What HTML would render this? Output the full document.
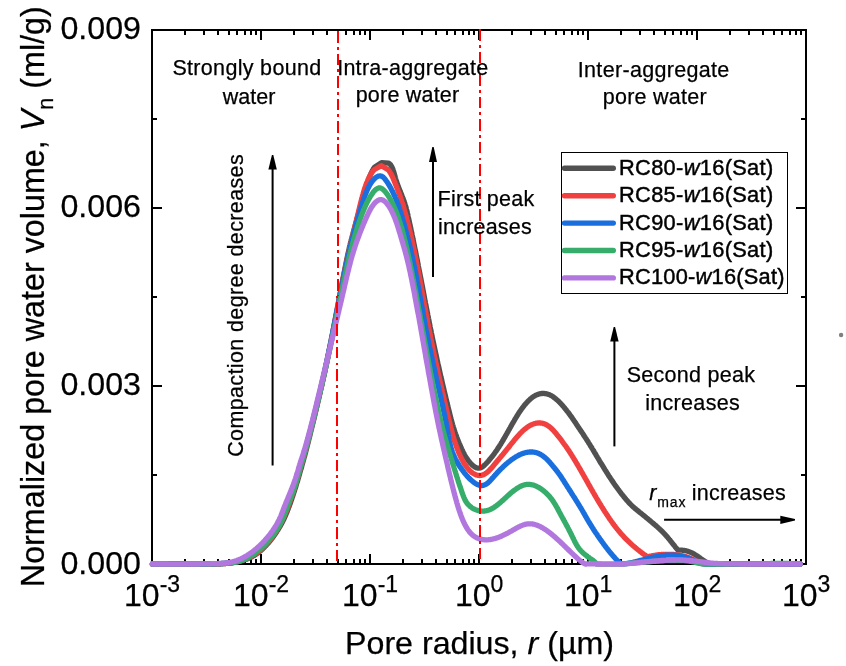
<!DOCTYPE html>
<html><head><meta charset="utf-8"><title>Pore water volume distribution</title>
<style>
html,body{margin:0;padding:0;background:#fff;}
body{width:846px;height:666px;overflow:hidden;}
svg{display:block;}
text{font-family:"Liberation Sans",sans-serif;fill:#000;stroke:#000;stroke-width:0.25px;}.i{font-style:italic;}
</style></head><body>
<svg width="846" height="666" viewBox="0 0 846 666">
<rect width="846" height="666" fill="#fff"/>
<path d="M184,29h2v6h-2zM184,559h2v6h-2zM203,29h2v6h-2zM203,559h2v6h-2zM217,29h2v6h-2zM217,559h2v6h-2zM228,29h2v6h-2zM228,559h2v6h-2zM236,29h2v6h-2zM236,559h2v6h-2zM244,29h2v6h-2zM244,559h2v6h-2zM250,29h2v6h-2zM250,559h2v6h-2zM255,29h2v6h-2zM255,559h2v6h-2zM260,29h2v11h-2zM260,554h2v11h-2zM293,29h2v6h-2zM293,559h2v6h-2zM312,29h2v6h-2zM312,559h2v6h-2zM326,29h2v6h-2zM326,559h2v6h-2zM337,29h2v6h-2zM337,559h2v6h-2zM345,29h2v6h-2zM345,559h2v6h-2zM353,29h2v6h-2zM353,559h2v6h-2zM359,29h2v6h-2zM359,559h2v6h-2zM364,29h2v6h-2zM364,559h2v6h-2zM369,29h2v11h-2zM369,554h2v11h-2zM402,29h2v6h-2zM402,559h2v6h-2zM421,29h2v6h-2zM421,559h2v6h-2zM435,29h2v6h-2zM435,559h2v6h-2zM446,29h2v6h-2zM446,559h2v6h-2zM454,29h2v6h-2zM454,559h2v6h-2zM462,29h2v6h-2zM462,559h2v6h-2zM468,29h2v6h-2zM468,559h2v6h-2zM473,29h2v6h-2zM473,559h2v6h-2zM478,29h2v11h-2zM478,554h2v11h-2zM511,29h2v6h-2zM511,559h2v6h-2zM530,29h2v6h-2zM530,559h2v6h-2zM544,29h2v6h-2zM544,559h2v6h-2zM555,29h2v6h-2zM555,559h2v6h-2zM563,29h2v6h-2zM563,559h2v6h-2zM571,29h2v6h-2zM571,559h2v6h-2zM577,29h2v6h-2zM577,559h2v6h-2zM582,29h2v6h-2zM582,559h2v6h-2zM587,29h2v11h-2zM587,554h2v11h-2zM620,29h2v6h-2zM620,559h2v6h-2zM639,29h2v6h-2zM639,559h2v6h-2zM653,29h2v6h-2zM653,559h2v6h-2zM664,29h2v6h-2zM664,559h2v6h-2zM672,29h2v6h-2zM672,559h2v6h-2zM680,29h2v6h-2zM680,559h2v6h-2zM686,29h2v6h-2zM686,559h2v6h-2zM691,29h2v6h-2zM691,559h2v6h-2zM696,29h2v11h-2zM696,554h2v11h-2zM729,29h2v6h-2zM729,559h2v6h-2zM748,29h2v6h-2zM748,559h2v6h-2zM762,29h2v6h-2zM762,559h2v6h-2zM773,29h2v6h-2zM773,559h2v6h-2zM781,29h2v6h-2zM781,559h2v6h-2zM789,29h2v6h-2zM789,559h2v6h-2zM795,29h2v6h-2zM795,559h2v6h-2zM800,29h2v6h-2zM800,559h2v6h-2zM151,474h6v2h-6zM801,474h6v2h-6zM151,385h11v2h-11zM796,385h11v2h-11zM151,296h6v2h-6zM801,296h6v2h-6zM151,207h11v2h-11zM796,207h11v2h-11zM151,118h6v2h-6zM801,118h6v2h-6zM151,29h656v2h-656zM151,563h656v2h-656zM151,29h2v536h-2zM805,29h2v536h-2z" fill="#000" shape-rendering="crispEdges"/>
<path d="M152.4,564.0 L153.1,564.0 L153.9,564.0 L154.6,564.0 L155.4,564.0 L156.1,564.0 L156.9,564.0 L157.6,564.0 L158.4,564.0 L159.2,564.0 L160.0,564.0 L160.8,564.0 L161.6,564.0 L162.4,564.0 L163.2,564.0 L164.0,564.0 L164.8,564.0 L165.6,564.0 L166.5,564.0 L167.3,564.0 L168.1,564.0 L168.9,564.0 L169.8,564.0 L170.6,564.0 L171.5,564.0 L172.3,564.0 L173.2,564.0 L174.0,564.0 L174.8,564.0 L175.7,564.0 L176.5,564.0 L177.4,564.0 L178.2,564.0 L179.1,564.0 L179.9,564.0 L180.8,564.0 L181.7,564.0 L182.5,564.0 L183.4,564.0 L184.2,564.0 L185.0,564.0 L185.9,564.0 L186.7,564.0 L187.6,564.0 L188.4,564.0 L189.3,564.0 L190.1,564.0 L190.9,564.0 L191.8,564.0 L192.6,564.0 L193.4,564.0 L194.2,564.0 L195.0,564.0 L195.8,564.0 L196.7,564.0 L197.5,564.0 L198.3,564.0 L199.0,564.0 L199.8,564.0 L200.6,564.0 L201.4,564.0 L202.2,564.0 L202.9,564.0 L203.7,564.0 L204.4,564.0 L205.2,564.0 L205.9,564.0 L206.6,564.0 L207.3,564.0 L208.1,564.0 L208.8,564.0 L209.5,564.0 L210.2,564.0 L210.8,564.0 L211.5,564.0 L212.2,564.0 L212.9,564.0 L213.5,563.9 L214.2,563.9 L214.8,563.9 L215.5,563.9 L216.1,563.9 L216.8,563.9 L217.4,563.9 L218.0,563.8 L218.6,563.8 L219.3,563.8 L219.9,563.8 L220.5,563.8 L221.1,563.7 L221.7,563.7 L222.3,563.7 L222.9,563.6 L223.5,563.6 L224.0,563.6 L224.6,563.5 L225.2,563.5 L225.8,563.5 L226.3,563.4 L226.9,563.4 L227.5,563.3 L228.0,563.3 L228.6,563.2 L229.2,563.1 L229.7,563.1 L230.3,563.0 L230.8,563.0 L231.4,562.9 L232.0,562.8 L232.5,562.7 L233.1,562.7 L233.6,562.6 L234.1,562.5 L234.7,562.4 L235.2,562.3 L235.8,562.2 L236.3,562.1 L236.8,562.0 L237.4,561.9 L237.9,561.8 L238.4,561.7 L239.0,561.5 L239.5,561.4 L240.0,561.3 L240.5,561.1 L241.0,561.0 L241.6,560.9 L242.1,560.7 L242.6,560.6 L243.1,560.4 L243.6,560.2 L244.1,560.1 L244.6,559.9 L245.1,559.7 L245.6,559.5 L246.1,559.4 L246.6,559.2 L247.1,559.0 L247.6,558.8 L248.1,558.5 L248.6,558.3 L249.1,558.1 L249.6,557.9 L250.1,557.7 L250.6,557.4 L251.1,557.2 L251.6,556.9 L252.0,556.7 L252.5,556.4 L253.0,556.1 L253.5,555.8 L254.0,555.6 L254.4,555.3 L254.9,555.0 L255.4,554.7 L255.8,554.4 L256.3,554.1 L256.8,553.7 L257.2,553.4 L257.7,553.1 L258.2,552.7 L258.6,552.4 L259.1,552.0 L259.5,551.6 L260.0,551.3 L260.5,550.9 L260.9,550.5 L261.4,550.1 L261.8,549.7 L262.3,549.3 L262.7,548.9 L263.2,548.4 L263.6,548.0 L264.0,547.6 L264.5,547.1 L264.9,546.7 L265.3,546.2 L265.8,545.8 L266.2,545.3 L266.6,544.9 L267.0,544.4 L267.5,543.9 L267.9,543.5 L268.3,543.0 L268.7,542.5 L269.1,542.0 L269.5,541.5 L269.9,541.0 L270.3,540.5 L270.7,540.0 L271.1,539.5 L271.5,539.0 L271.9,538.5 L272.3,538.0 L272.7,537.5 L273.0,537.0 L273.4,536.5 L273.8,536.0 L274.1,535.5 L274.5,535.0 L274.8,534.5 L275.2,534.0 L275.5,533.5 L275.9,533.0 L276.2,532.5 L276.6,532.0 L276.9,531.5 L277.2,531.0 L277.5,530.5 L277.8,530.0 L278.2,529.5 L278.5,529.0 L278.8,528.5 L279.1,528.0 L279.3,527.5 L279.6,527.1 L279.9,526.6 L280.2,526.1 L280.5,525.6 L280.7,525.2 L281.0,524.7 L281.2,524.2 L281.5,523.7 L281.8,523.3 L282.0,522.8 L282.3,522.3 L282.5,521.9 L282.7,521.4 L283.0,520.9 L283.2,520.5 L283.4,520.0 L283.7,519.5 L283.9,519.0 L284.1,518.5 L284.3,518.1 L284.6,517.6 L284.8,517.1 L285.0,516.6 L285.2,516.1 L285.5,515.6 L285.7,515.1 L285.9,514.6 L286.1,514.0 L286.3,513.5 L286.6,513.0 L286.8,512.4 L287.0,511.9 L287.2,511.4 L287.4,510.8 L287.6,510.2 L287.9,509.7 L288.1,509.1 L288.3,508.5 L288.5,508.0 L288.7,507.4 L289.0,506.8 L289.2,506.2 L289.4,505.6 L289.6,505.0 L289.8,504.4 L290.1,503.8 L290.3,503.2 L290.5,502.6 L290.7,502.0 L290.9,501.4 L291.1,500.7 L291.4,500.1 L291.6,499.5 L291.8,498.8 L292.0,498.2 L292.2,497.5 L292.4,496.9 L292.7,496.3 L292.9,495.6 L293.1,494.9 L293.3,494.3 L293.5,493.6 L293.7,493.0 L294.0,492.3 L294.2,491.6 L294.4,491.0 L294.6,490.3 L294.8,489.6 L295.0,488.9 L295.2,488.3 L295.5,487.6 L295.7,486.9 L295.9,486.2 L296.1,485.5 L296.3,484.8 L296.5,484.1 L296.7,483.5 L296.9,482.8 L297.1,482.1 L297.4,481.4 L297.6,480.7 L297.8,480.0 L298.0,479.3 L298.2,478.6 L298.4,477.9 L298.6,477.2 L298.8,476.5 L299.0,475.8 L299.2,475.1 L299.4,474.4 L299.6,473.7 L299.8,472.9 L300.0,472.2 L300.2,471.5 L300.4,470.8 L300.6,470.1 L300.8,469.4 L301.1,468.7 L301.3,468.0 L301.5,467.3 L301.7,466.6 L301.8,465.9 L302.0,465.2 L302.2,464.5 L302.4,463.8 L302.6,463.1 L302.8,462.4 L303.0,461.7 L303.2,461.0 L303.4,460.3 L303.6,459.6 L303.8,458.8 L304.0,458.1 L304.2,457.3 L304.4,456.5 L304.7,455.8 L304.9,455.0 L305.1,454.1 L305.3,453.3 L305.6,452.4 L305.8,451.5 L306.0,450.6 L306.3,449.7 L306.5,448.7 L306.8,447.7 L307.0,446.7 L307.3,445.6 L307.6,444.5 L307.9,443.3 L308.2,442.2 L308.5,441.0 L308.8,439.7 L309.1,438.4 L309.5,437.1 L309.8,435.8 L310.1,434.4 L310.5,433.0 L310.8,431.5 L311.2,430.1 L311.6,428.6 L311.9,427.0 L312.3,425.5 L312.7,423.9 L313.1,422.3 L313.5,420.7 L313.9,419.1 L314.3,417.4 L314.7,415.7 L315.1,414.1 L315.5,412.3 L315.9,410.6 L316.3,408.9 L316.7,407.1 L317.1,405.3 L317.5,403.5 L318.0,401.7 L318.4,399.9 L318.8,398.1 L319.2,396.3 L319.6,394.5 L320.1,392.6 L320.5,390.8 L320.9,388.9 L321.3,387.0 L321.8,385.2 L322.2,383.3 L322.6,381.5 L323.0,379.6 L323.4,377.7 L323.8,375.9 L324.2,374.0 L324.7,372.2 L325.1,370.3 L325.5,368.5 L325.9,366.6 L326.3,364.8 L326.6,363.0 L327.0,361.1 L327.4,359.3 L327.8,357.5 L328.2,355.7 L328.5,354.0 L328.9,352.2 L329.3,350.4 L329.6,348.7 L330.0,346.9 L330.3,345.2 L330.7,343.5 L331.0,341.7 L331.4,340.0 L331.7,338.3 L332.1,336.6 L332.4,335.0 L332.7,333.3 L333.1,331.6 L333.4,330.0 L333.7,328.3 L334.0,326.7 L334.3,325.1 L334.6,323.5 L335.0,321.8 L335.3,320.3 L335.6,318.7 L335.9,317.1 L336.2,315.5 L336.5,314.0 L336.8,312.4 L337.0,310.9 L337.3,309.4 L337.6,307.9 L337.9,306.4 L338.2,304.9 L338.4,303.4 L338.7,301.9 L339.0,300.4 L339.3,299.0 L339.5,297.6 L339.8,296.1 L340.1,294.7 L340.3,293.3 L340.6,291.9 L340.8,290.5 L341.1,289.2 L341.3,287.8 L341.6,286.4 L341.8,285.1 L342.1,283.8 L342.3,282.5 L342.6,281.2 L342.8,279.9 L343.0,278.6 L343.3,277.3 L343.5,276.0 L343.7,274.8 L344.0,273.5 L344.2,272.3 L344.5,271.1 L344.7,269.8 L344.9,268.6 L345.2,267.4 L345.4,266.2 L345.6,265.1 L345.9,263.9 L346.1,262.7 L346.3,261.6 L346.6,260.4 L346.8,259.3 L347.0,258.1 L347.3,257.0 L347.5,255.9 L347.7,254.8 L348.0,253.7 L348.2,252.6 L348.5,251.5 L348.7,250.4 L349.0,249.4 L349.2,248.3 L349.5,247.2 L349.7,246.2 L350.0,245.1 L350.2,244.1 L350.5,243.1 L350.7,242.0 L351.0,241.0 L351.3,239.9 L351.5,238.9 L351.8,237.9 L352.1,236.8 L352.4,235.8 L352.6,234.7 L352.9,233.7 L353.2,232.6 L353.5,231.6 L353.8,230.5 L354.1,229.4 L354.4,228.3 L354.7,227.2 L355.0,226.1 L355.3,225.0 L355.6,223.9 L355.9,222.7 L356.3,221.6 L356.6,220.4 L356.9,219.2 L357.2,218.0 L357.6,216.8 L357.9,215.6 L358.3,214.3 L358.6,213.1 L359.0,211.8 L359.3,210.5 L359.7,209.2 L360.1,207.8 L360.4,206.5 L360.8,205.2 L361.2,203.8 L361.6,202.5 L362.0,201.1 L362.3,199.8 L362.7,198.4 L363.1,197.1 L363.5,195.7 L363.9,194.4 L364.3,193.1 L364.7,191.8 L365.1,190.5 L365.5,189.2 L365.9,187.9 L366.2,186.7 L366.6,185.5 L367.0,184.3 L367.4,183.1 L367.8,181.9 L368.2,180.8 L368.6,179.7 L369.0,178.6 L369.3,177.6 L369.7,176.6 L370.1,175.7 L370.5,174.7 L370.8,173.9 L371.2,173.0 L371.6,172.2 L371.9,171.5 L372.3,170.8 L372.6,170.1 L373.0,169.5 L373.3,168.9 L373.7,168.4 L374.0,167.9 L374.4,167.4 L374.5,167.2 L381.5,162.6 L388.5,163.1 L388.7,163.2 L389.1,163.4 L389.4,163.6 L389.7,163.9 L389.9,164.2 L390.2,164.4 L390.5,164.7 L390.7,165.1 L391.0,165.4 L391.2,165.7 L391.4,166.1 L391.6,166.5 L391.8,166.9 L392.0,167.3 L392.2,167.7 L392.4,168.1 L392.6,168.5 L392.8,169.0 L393.0,169.5 L393.1,169.9 L393.3,170.4 L393.5,170.9 L393.6,171.4 L393.8,171.9 L393.9,172.5 L394.1,173.0 L394.2,173.5 L394.4,174.1 L394.5,174.6 L394.7,175.2 L394.9,175.8 L395.0,176.3 L395.2,176.9 L395.3,177.5 L395.5,178.1 L395.7,178.7 L395.8,179.3 L396.0,179.9 L396.2,180.5 L396.4,181.1 L396.6,181.7 L396.8,182.3 L397.0,182.9 L397.2,183.5 L397.4,184.1 L397.7,184.8 L397.9,185.4 L398.1,186.0 L398.4,186.6 L398.6,187.2 L398.8,187.9 L399.1,188.5 L399.3,189.1 L399.6,189.7 L399.8,190.4 L400.1,191.0 L400.3,191.6 L400.6,192.3 L400.8,192.9 L401.1,193.5 L401.4,194.2 L401.6,194.8 L401.9,195.4 L402.1,196.1 L402.4,196.7 L402.6,197.3 L402.9,198.0 L403.1,198.6 L403.3,199.3 L403.6,199.9 L403.8,200.5 L404.0,201.2 L404.3,201.8 L404.5,202.5 L404.7,203.1 L404.9,203.8 L405.1,204.4 L405.3,205.1 L405.5,205.7 L405.7,206.4 L405.9,207.0 L406.1,207.7 L406.3,208.4 L406.4,209.0 L406.6,209.7 L406.8,210.4 L407.0,211.1 L407.2,211.9 L407.3,212.6 L407.5,213.4 L407.7,214.1 L407.9,214.9 L408.0,215.7 L408.2,216.6 L408.4,217.4 L408.6,218.3 L408.8,219.2 L409.0,220.1 L409.2,221.0 L409.4,222.0 L409.6,223.0 L409.8,224.0 L410.1,225.0 L410.3,226.1 L410.5,227.2 L410.8,228.3 L411.0,229.4 L411.2,230.6 L411.5,231.7 L411.7,232.9 L412.0,234.1 L412.2,235.3 L412.5,236.6 L412.8,237.8 L413.0,239.1 L413.3,240.4 L413.5,241.7 L413.8,243.0 L414.1,244.3 L414.4,245.7 L414.6,247.1 L414.9,248.4 L415.2,249.8 L415.5,251.2 L415.8,252.6 L416.0,254.0 L416.3,255.5 L416.6,256.9 L416.9,258.3 L417.2,259.8 L417.5,261.3 L417.8,262.7 L418.1,264.2 L418.3,265.7 L418.6,267.2 L418.9,268.7 L419.2,270.2 L419.5,271.7 L419.8,273.2 L420.1,274.7 L420.4,276.3 L420.7,277.8 L421.0,279.3 L421.3,280.9 L421.6,282.4 L421.9,284.0 L422.2,285.6 L422.5,287.1 L422.8,288.7 L423.1,290.3 L423.4,291.9 L423.7,293.5 L424.0,295.1 L424.3,296.7 L424.6,298.4 L424.9,300.0 L425.2,301.6 L425.5,303.3 L425.9,304.9 L426.2,306.6 L426.5,308.3 L426.8,310.0 L427.2,311.6 L427.5,313.3 L427.8,315.0 L428.2,316.8 L428.5,318.5 L428.9,320.2 L429.2,321.9 L429.5,323.7 L429.9,325.4 L430.2,327.2 L430.6,329.0 L431.0,330.7 L431.3,332.5 L431.7,334.3 L432.1,336.1 L432.4,337.9 L432.8,339.7 L433.2,341.6 L433.6,343.4 L434.0,345.3 L434.4,347.1 L434.8,349.0 L435.2,350.8 L435.6,352.7 L436.0,354.6 L436.4,356.4 L436.8,358.3 L437.2,360.2 L437.6,362.1 L438.0,363.9 L438.5,365.8 L438.9,367.6 L439.3,369.5 L439.7,371.3 L440.1,373.2 L440.5,375.0 L440.9,376.8 L441.4,378.6 L441.8,380.4 L442.2,382.2 L442.6,384.0 L443.0,385.7 L443.4,387.4 L443.8,389.2 L444.2,390.8 L444.6,392.5 L445.0,394.2 L445.4,395.8 L445.7,397.4 L446.1,399.0 L446.5,400.5 L446.9,402.1 L447.2,403.6 L447.6,405.0 L447.9,406.5 L448.3,407.9 L448.6,409.3 L449.0,410.6 L449.3,411.9 L449.6,413.2 L449.9,414.4 L450.2,415.6 L450.5,416.8 L450.8,417.9 L451.1,419.0 L451.4,420.0 L451.6,421.0 L451.9,421.9 L452.1,422.9 L452.4,423.7 L452.6,424.6 L452.9,425.4 L453.1,426.2 L453.3,427.0 L453.5,427.7 L453.8,428.4 L454.0,429.1 L454.2,429.8 L454.4,430.5 L454.6,431.2 L454.9,431.8 L455.1,432.5 L455.3,433.1 L455.5,433.8 L455.7,434.4 L456.0,435.0 L456.2,435.7 L456.5,436.3 L456.7,437.0 L457.0,437.7 L457.2,438.3 L457.5,439.0 L457.7,439.7 L458.0,440.3 L458.3,441.0 L458.5,441.7 L458.8,442.4 L459.1,443.1 L459.4,443.7 L459.7,444.4 L460.0,445.1 L460.3,445.8 L460.5,446.4 L460.8,447.1 L461.1,447.8 L461.4,448.4 L461.7,449.1 L462.0,449.7 L462.3,450.3 L462.6,451.0 L462.9,451.6 L463.2,452.2 L463.5,452.8 L463.9,453.4 L464.2,454.1 L464.5,454.7 L464.8,455.3 L465.2,455.9 L465.5,456.5 L465.9,457.1 L466.3,457.6 L466.7,458.2 L467.1,458.8 L467.5,459.4 L467.9,460.0 L468.3,460.6 L468.8,461.2 L469.3,461.8 L469.7,462.4 L470.2,462.9 L470.8,463.5 L471.3,464.0 L471.8,464.6 L472.3,465.1 L472.9,465.5 L473.4,466.0 L474.0,466.4 L474.5,466.8 L475.1,467.1 L475.7,467.4 L476.2,467.7 L476.8,467.9 L477.4,468.0 L477.9,468.1 L478.5,468.2 L479.0,468.2 L479.6,468.1 L480.1,468.0 L480.6,467.8 L481.2,467.6 L481.7,467.3 L482.2,467.0 L482.7,466.7 L483.2,466.3 L483.7,465.9 L484.2,465.4 L484.7,465.0 L485.2,464.5 L485.7,464.0 L486.2,463.5 L486.6,463.0 L487.1,462.5 L487.6,462.0 L488.0,461.5 L488.5,461.0 L488.9,460.5 L489.3,459.9 L489.8,459.4 L490.2,458.9 L490.6,458.4 L491.0,457.9 L491.4,457.4 L491.9,456.9 L492.3,456.4 L492.7,455.8 L493.0,455.3 L493.4,454.8 L493.8,454.3 L494.2,453.8 L494.6,453.2 L495.0,452.7 L495.3,452.2 L495.7,451.7 L496.1,451.2 L496.4,450.6 L496.8,450.1 L497.1,449.6 L497.5,449.1 L497.8,448.5 L498.2,448.0 L498.5,447.5 L498.9,447.0 L499.2,446.4 L499.6,445.9 L499.9,445.4 L500.2,444.8 L500.6,444.3 L500.9,443.8 L501.2,443.2 L501.5,442.7 L501.9,442.1 L502.2,441.6 L502.5,441.1 L502.8,440.5 L503.2,440.0 L503.5,439.4 L503.8,438.9 L504.1,438.3 L504.4,437.8 L504.8,437.2 L505.1,436.7 L505.4,436.1 L505.7,435.5 L506.0,435.0 L506.4,434.4 L506.7,433.8 L507.0,433.3 L507.3,432.7 L507.6,432.1 L508.0,431.6 L508.3,431.0 L508.6,430.4 L508.9,429.8 L509.3,429.3 L509.6,428.7 L509.9,428.1 L510.3,427.5 L510.6,426.9 L510.9,426.3 L511.3,425.7 L511.6,425.1 L511.9,424.5 L512.3,423.9 L512.6,423.3 L513.0,422.7 L513.3,422.1 L513.7,421.5 L514.1,420.9 L514.4,420.2 L514.8,419.6 L515.1,419.0 L515.5,418.4 L515.9,417.8 L516.2,417.2 L516.6,416.6 L517.0,416.0 L517.4,415.3 L517.8,414.7 L518.1,414.1 L518.5,413.5 L518.9,412.9 L519.3,412.3 L519.7,411.7 L520.1,411.1 L520.5,410.6 L520.9,410.0 L521.3,409.4 L521.7,408.8 L522.1,408.3 L522.5,407.7 L523.0,407.1 L523.4,406.6 L523.8,406.1 L524.2,405.5 L524.6,405.0 L525.1,404.5 L525.5,404.0 L525.9,403.5 L526.4,403.0 L526.8,402.5 L527.3,402.0 L527.7,401.5 L528.2,401.1 L528.6,400.6 L529.1,400.2 L529.5,399.8 L530.0,399.3 L530.4,398.9 L530.9,398.5 L531.4,398.2 L531.8,397.8 L532.3,397.4 L532.8,397.1 L533.3,396.8 L533.8,396.4 L534.2,396.1 L534.7,395.9 L535.2,395.6 L535.7,395.3 L536.2,395.1 L536.7,394.9 L537.2,394.6 L537.7,394.4 L538.2,394.3 L538.7,394.1 L539.2,394.0 L539.8,393.8 L540.3,393.7 L540.8,393.6 L541.3,393.5 L541.9,393.5 L542.4,393.5 L542.9,393.4 L543.5,393.4 L544.0,393.5 L544.5,393.5 L545.1,393.6 L545.6,393.6 L546.2,393.8 L546.8,393.9 L547.3,394.0 L547.9,394.2 L548.4,394.4 L549.0,394.6 L549.6,394.8 L550.1,395.1 L550.7,395.4 L551.3,395.7 L551.9,396.0 L552.5,396.4 L553.1,396.8 L553.7,397.2 L554.2,397.6 L554.8,398.1 L555.4,398.5 L556.0,399.0 L556.6,399.6 L557.3,400.1 L557.9,400.7 L558.5,401.2 L559.1,401.8 L559.7,402.5 L560.3,403.1 L560.9,403.7 L561.5,404.4 L562.1,405.0 L562.7,405.7 L563.3,406.4 L563.9,407.1 L564.4,407.8 L565.0,408.5 L565.6,409.2 L566.2,409.9 L566.7,410.6 L567.3,411.4 L567.9,412.1 L568.4,412.8 L569.0,413.5 L569.5,414.3 L570.0,415.0 L570.5,415.7 L571.1,416.4 L571.6,417.1 L572.1,417.8 L572.5,418.5 L573.0,419.2 L573.5,419.9 L573.9,420.5 L574.4,421.2 L574.8,421.8 L575.2,422.4 L575.7,423.0 L576.0,423.6 L576.4,424.2 L576.8,424.8 L577.2,425.3 L577.5,425.8 L577.8,426.3 L578.2,426.8 L578.5,427.3 L578.7,427.7 L579.0,428.1 L579.3,428.5 L579.6,429.0 L579.9,429.4 L580.1,429.8 L580.4,430.2 L580.7,430.6 L580.9,431.0 L581.2,431.4 L581.5,431.8 L581.8,432.2 L582.1,432.7 L582.4,433.1 L582.7,433.5 L583.0,434.0 L583.3,434.4 L583.5,434.9 L583.8,435.3 L584.1,435.8 L584.4,436.2 L584.7,436.7 L585.0,437.1 L585.3,437.6 L585.6,438.0 L585.9,438.5 L586.2,438.9 L586.5,439.4 L586.8,439.9 L587.1,440.3 L587.4,440.8 L587.7,441.2 L588.0,441.7 L588.3,442.1 L588.5,442.6 L588.8,443.1 L589.1,443.5 L589.4,444.0 L589.7,444.4 L590.0,444.9 L590.3,445.3 L590.5,445.8 L590.8,446.3 L591.1,446.7 L591.4,447.2 L591.7,447.6 L591.9,448.1 L592.2,448.6 L592.5,449.0 L592.8,449.5 L593.1,450.0 L593.3,450.4 L593.6,450.9 L593.9,451.4 L594.2,451.8 L594.4,452.3 L594.7,452.8 L595.0,453.2 L595.3,453.7 L595.6,454.2 L595.8,454.6 L596.1,455.1 L596.4,455.6 L596.7,456.1 L597.0,456.5 L597.3,457.0 L597.5,457.5 L597.8,458.0 L598.1,458.4 L598.4,458.9 L598.7,459.4 L599.0,459.9 L599.3,460.3 L599.5,460.8 L599.8,461.3 L600.1,461.8 L600.4,462.3 L600.7,462.8 L601.0,463.3 L601.3,463.7 L601.6,464.2 L601.9,464.7 L602.2,465.2 L602.5,465.7 L602.8,466.2 L603.1,466.7 L603.4,467.2 L603.7,467.7 L604.0,468.2 L604.3,468.7 L604.6,469.2 L604.9,469.7 L605.2,470.2 L605.6,470.7 L605.9,471.2 L606.2,471.7 L606.5,472.2 L606.8,472.7 L607.2,473.2 L607.5,473.7 L607.8,474.2 L608.2,474.8 L608.5,475.3 L608.8,475.8 L609.2,476.3 L609.5,476.8 L609.8,477.3 L610.2,477.9 L610.5,478.4 L610.9,478.9 L611.2,479.4 L611.6,479.9 L611.9,480.5 L612.3,481.0 L612.6,481.5 L613.0,482.0 L613.3,482.5 L613.7,483.1 L614.0,483.6 L614.4,484.1 L614.8,484.6 L615.1,485.1 L615.5,485.6 L615.8,486.2 L616.2,486.7 L616.6,487.2 L616.9,487.7 L617.3,488.2 L617.7,488.7 L618.0,489.2 L618.4,489.7 L618.8,490.2 L619.1,490.7 L619.5,491.2 L619.9,491.7 L620.2,492.2 L620.6,492.6 L621.0,493.1 L621.3,493.6 L621.7,494.1 L622.1,494.5 L622.5,495.0 L622.8,495.5 L623.2,495.9 L623.6,496.4 L623.9,496.8 L624.3,497.3 L624.7,497.7 L625.0,498.2 L625.4,498.6 L625.7,499.0 L626.1,499.5 L626.5,499.9 L626.8,500.3 L627.2,500.7 L627.6,501.1 L627.9,501.5 L628.3,501.9 L628.6,502.3 L629.0,502.7 L629.3,503.1 L629.7,503.4 L630.0,503.8 L630.4,504.2 L630.7,504.5 L631.1,504.9 L631.4,505.2 L631.8,505.5 L632.1,505.9 L632.4,506.2 L632.8,506.5 L633.1,506.8 L633.5,507.1 L633.8,507.4 L634.1,507.7 L634.5,508.0 L634.8,508.3 L635.2,508.6 L635.5,508.9 L635.9,509.2 L636.3,509.5 L636.6,509.8 L637.0,510.1 L637.4,510.4 L637.8,510.7 L638.2,511.1 L638.6,511.4 L639.0,511.7 L639.4,512.1 L639.9,512.4 L640.3,512.8 L640.8,513.1 L641.2,513.5 L641.7,513.9 L642.2,514.3 L642.7,514.7 L643.2,515.1 L643.7,515.5 L644.2,515.9 L644.7,516.3 L645.3,516.8 L645.8,517.2 L646.3,517.7 L646.9,518.1 L647.4,518.5 L648.0,519.0 L648.5,519.5 L649.1,519.9 L649.6,520.4 L650.2,520.8 L650.7,521.3 L651.3,521.8 L651.8,522.2 L652.4,522.7 L652.9,523.1 L653.5,523.6 L654.0,524.1 L654.5,524.5 L655.1,525.0 L655.6,525.4 L656.1,525.9 L656.6,526.3 L657.1,526.7 L657.6,527.2 L658.1,527.6 L658.5,528.0 L659.0,528.5 L659.4,528.9 L659.9,529.3 L660.3,529.7 L660.7,530.1 L661.1,530.4 L661.5,530.8 L661.9,531.2 L662.3,531.6 L662.6,531.9 L663.0,532.3 L663.3,532.6 L663.7,533.0 L664.0,533.3 L664.3,533.6 L664.6,534.0 L664.9,534.3 L665.3,534.6 L665.5,535.0 L665.8,535.3 L666.1,535.6 L666.4,535.9 L666.7,536.3 L667.0,536.6 L667.2,536.9 L667.5,537.2 L667.8,537.5 L668.1,537.9 L668.3,538.2 L668.6,538.5 L668.9,538.9 L669.1,539.2 L669.4,539.5 L669.7,539.9 L670.0,540.2 L670.2,540.6 L670.5,540.9 L670.8,541.3 L671.1,541.6 L671.4,542.0 L671.7,542.4 L672.0,542.8 L672.3,543.2 L672.6,543.6 L672.9,544.0 L673.3,544.4 L673.6,544.8 L674.0,545.2 L674.3,545.7 L674.7,546.1 L675.1,546.6 L675.4,547.1 L675.8,547.6 L676.2,548.1 L676.7,548.6 L677.1,549.1 L677.5,549.6 L678.0,550.2 L678.0,550.2 L678.7,550.1 L679.4,550.1 L680.1,550.1 L680.8,550.1 L681.5,550.2 L682.1,550.2 L682.8,550.3 L683.4,550.3 L684.1,550.4 L684.7,550.5 L685.3,550.6 L685.9,550.8 L686.4,550.9 L687.0,551.1 L687.6,551.2 L688.1,551.4 L688.7,551.6 L689.2,551.8 L689.8,552.0 L690.3,552.2 L690.8,552.4 L691.3,552.6 L691.8,552.8 L692.3,553.1 L692.8,553.3 L693.2,553.6 L693.7,553.8 L694.2,554.1 L694.6,554.4 L695.1,554.6 L695.5,554.9 L695.9,555.2 L696.4,555.4 L696.8,555.7 L697.2,556.0 L697.6,556.3 L698.1,556.6 L698.5,556.9 L698.9,557.2 L699.3,557.4 L699.7,557.7 L700.1,558.0 L700.4,558.3 L700.8,558.6 L701.2,558.9 L701.6,559.1 L702.0,559.4 L702.4,559.7 L702.7,559.9 L703.1,560.2 L703.5,560.5 L703.9,560.7 L704.2,561.0 L704.6,561.2 L705.0,561.4 L705.4,561.6 L705.7,561.9 L706.1,562.1 L706.5,562.3 L706.9,562.4 L707.2,562.6 L707.6,562.8 L708.0,563.0 L708.4,563.1 L708.8,563.2 L709.2,563.4 L709.6,563.5 L710.0,563.6 L710.4,563.7 L710.8,563.8 L711.3,563.9 L711.7,563.9 L712.2,564.0 L712.7,564.1 L713.2,564.1 L713.7,564.2 L714.2,564.2 L714.8,564.2 L715.4,564.2 L716.0,564.2 L716.7,564.2 L717.3,564.2 L718.0,564.2 L718.8,564.2 L719.5,564.2 L720.3,564.2 L721.2,564.2 L722.1,564.2 L723.0,564.2 L723.9,564.2 L724.9,564.2 L725.9,564.2 L726.9,564.2 L728.0,564.2 L729.1,564.2 L730.2,564.2 L731.4,564.2 L732.6,564.2 L733.8,564.2 L735.0,564.2 L736.2,564.2 L737.5,564.2 L738.8,564.2 L740.1,564.2 L741.4,564.1 L742.8,564.1 L744.1,564.1 L745.5,564.1 L746.9,564.1 L748.3,564.0 L749.7,564.0 L751.1,564.0 L752.5,564.0 L754.0,563.9 L755.4,563.9 L756.9,563.9 L758.3,563.9 L759.8,563.9 L761.2,563.8 L762.7,563.8 L764.1,563.8 L765.6,563.8 L767.0,563.8 L768.5,563.8 L769.9,563.8 L771.4,563.7 L772.8,563.7 L774.2,563.7 L775.6,563.7 L777.0,563.7 L778.4,563.7 L779.8,563.7 L781.2,563.7 L782.5,563.7 L783.8,563.7 L785.2,563.7 L786.5,563.7 L787.7,563.7 L789.0,563.7 L790.2,563.8 L791.4,563.8 L792.6,563.8 L793.8,563.8 L794.9,563.8 L796.0,563.9 L797.1,563.9 L798.2,563.9 L799.2,564.0 L800.2,564.0" fill="none" stroke="#515151" stroke-width="5.3" stroke-linejoin="round" stroke-linecap="round"/>
<path d="M152.4,564.0 L153.2,564.0 L153.9,564.0 L154.7,564.0 L155.4,564.0 L156.2,564.0 L157.0,564.0 L157.8,564.0 L158.6,564.0 L159.3,564.0 L160.1,564.0 L160.9,564.0 L161.7,564.0 L162.5,564.0 L163.3,564.0 L164.1,564.0 L164.9,564.0 L165.7,564.0 L166.5,564.0 L167.3,564.0 L168.1,564.0 L168.9,564.0 L169.7,564.0 L170.5,564.0 L171.4,564.0 L172.2,564.0 L173.0,564.0 L173.8,564.0 L174.6,564.0 L175.4,564.0 L176.3,564.0 L177.1,564.0 L177.9,564.0 L178.7,564.0 L179.5,564.0 L180.3,564.0 L181.2,564.0 L182.0,564.0 L182.8,564.0 L183.6,564.0 L184.4,564.0 L185.2,564.0 L186.0,564.0 L186.8,564.0 L187.7,564.0 L188.5,564.0 L189.3,564.0 L190.1,564.0 L190.9,564.0 L191.7,564.0 L192.5,564.0 L193.3,564.0 L194.1,564.0 L194.8,564.0 L195.6,564.0 L196.4,564.0 L197.2,564.0 L198.0,564.0 L198.8,564.0 L199.5,564.0 L200.3,564.0 L201.1,564.0 L201.8,564.0 L202.6,564.0 L203.3,564.0 L204.1,564.0 L204.8,564.0 L205.6,564.0 L206.3,564.0 L207.0,564.0 L207.8,563.9 L208.5,563.9 L209.2,563.9 L209.9,563.9 L210.6,563.9 L211.3,563.9 L212.0,563.9 L212.7,563.9 L213.4,563.9 L214.0,563.9 L214.7,563.9 L215.4,563.9 L216.0,563.9 L216.6,563.8 L217.3,563.8 L217.9,563.8 L218.5,563.8 L219.1,563.8 L219.7,563.8 L220.3,563.8 L220.8,563.7 L221.4,563.7 L221.9,563.7 L222.5,563.7 L223.0,563.6 L223.6,563.6 L224.1,563.6 L224.6,563.6 L225.1,563.5 L225.6,563.5 L226.1,563.4 L226.7,563.4 L227.2,563.4 L227.7,563.3 L228.2,563.3 L228.7,563.2 L229.2,563.1 L229.7,563.1 L230.2,563.0 L230.8,562.9 L231.3,562.9 L231.8,562.8 L232.3,562.7 L232.8,562.6 L233.4,562.5 L233.9,562.4 L234.4,562.3 L234.9,562.2 L235.4,562.1 L235.9,562.0 L236.5,561.9 L237.0,561.7 L237.5,561.6 L238.0,561.5 L238.5,561.4 L239.1,561.2 L239.6,561.1 L240.1,560.9 L240.6,560.8 L241.1,560.6 L241.6,560.4 L242.2,560.3 L242.7,560.1 L243.2,559.9 L243.7,559.7 L244.2,559.6 L244.7,559.4 L245.2,559.2 L245.7,559.0 L246.2,558.8 L246.7,558.5 L247.2,558.3 L247.7,558.1 L248.3,557.9 L248.8,557.6 L249.2,557.4 L249.7,557.2 L250.2,556.9 L250.7,556.7 L251.2,556.4 L251.7,556.1 L252.2,555.9 L252.7,555.6 L253.2,555.3 L253.7,555.0 L254.1,554.7 L254.6,554.4 L255.1,554.1 L255.6,553.8 L256.0,553.5 L256.5,553.2 L257.0,552.8 L257.4,552.5 L257.9,552.1 L258.3,551.8 L258.8,551.4 L259.3,551.1 L259.7,550.7 L260.1,550.3 L260.6,550.0 L261.0,549.6 L261.5,549.2 L261.9,548.8 L262.3,548.4 L262.8,548.0 L263.2,547.6 L263.6,547.1 L264.0,546.7 L264.5,546.3 L264.9,545.9 L265.3,545.4 L265.7,545.0 L266.1,544.6 L266.5,544.1 L266.9,543.7 L267.3,543.2 L267.7,542.7 L268.1,542.3 L268.5,541.8 L268.8,541.4 L269.2,540.9 L269.6,540.4 L270.0,539.9 L270.4,539.5 L270.7,539.0 L271.1,538.5 L271.4,538.0 L271.8,537.5 L272.2,537.0 L272.5,536.5 L272.9,536.0 L273.2,535.5 L273.6,535.1 L273.9,534.6 L274.2,534.1 L274.6,533.6 L274.9,533.1 L275.2,532.6 L275.5,532.1 L275.9,531.6 L276.2,531.1 L276.5,530.6 L276.8,530.1 L277.1,529.6 L277.4,529.0 L277.7,528.5 L278.0,528.0 L278.3,527.5 L278.6,527.1 L278.9,526.6 L279.1,526.1 L279.4,525.6 L279.7,525.1 L280.0,524.6 L280.2,524.1 L280.5,523.6 L280.7,523.1 L281.0,522.6 L281.3,522.1 L281.5,521.7 L281.8,521.2 L282.0,520.7 L282.2,520.2 L282.5,519.8 L282.7,519.3 L282.9,518.8 L283.1,518.4 L283.4,517.9 L283.6,517.4 L283.8,517.0 L284.0,516.5 L284.2,516.0 L284.4,515.5 L284.7,515.1 L284.9,514.6 L285.1,514.1 L285.3,513.6 L285.5,513.1 L285.7,512.5 L285.9,512.0 L286.2,511.5 L286.4,510.9 L286.6,510.4 L286.8,509.9 L287.0,509.3 L287.2,508.7 L287.5,508.2 L287.7,507.6 L287.9,507.0 L288.1,506.4 L288.3,505.8 L288.5,505.3 L288.8,504.7 L289.0,504.1 L289.2,503.5 L289.4,502.8 L289.6,502.2 L289.8,501.6 L290.1,501.0 L290.3,500.4 L290.5,499.7 L290.7,499.1 L290.9,498.5 L291.1,497.8 L291.4,497.2 L291.6,496.6 L291.8,495.9 L292.0,495.3 L292.2,494.6 L292.4,494.0 L292.7,493.3 L292.9,492.7 L293.1,492.0 L293.3,491.4 L293.5,490.7 L293.7,490.1 L294.0,489.4 L294.2,488.7 L294.4,488.1 L294.6,487.4 L294.8,486.7 L295.0,486.1 L295.2,485.4 L295.4,484.7 L295.6,484.1 L295.8,483.4 L296.0,482.7 L296.2,482.1 L296.5,481.4 L296.7,480.7 L296.9,480.1 L297.1,479.4 L297.3,478.7 L297.5,478.1 L297.7,477.4 L297.9,476.7 L298.0,476.1 L298.2,475.4 L298.4,474.7 L298.6,474.1 L298.8,473.4 L299.0,472.7 L299.2,472.0 L299.4,471.4 L299.6,470.7 L299.8,470.0 L300.0,469.3 L300.2,468.7 L300.4,468.0 L300.6,467.3 L300.8,466.6 L301.0,465.9 L301.2,465.2 L301.4,464.5 L301.6,463.8 L301.8,463.1 L302.0,462.4 L302.2,461.7 L302.4,460.9 L302.6,460.2 L302.9,459.5 L303.1,458.7 L303.3,457.9 L303.5,457.1 L303.7,456.3 L304.0,455.5 L304.2,454.7 L304.5,453.8 L304.7,452.9 L305.0,452.0 L305.2,451.1 L305.5,450.2 L305.7,449.2 L306.0,448.2 L306.3,447.2 L306.6,446.1 L306.9,445.0 L307.2,443.9 L307.5,442.8 L307.8,441.6 L308.1,440.4 L308.4,439.1 L308.8,437.9 L309.1,436.6 L309.5,435.2 L309.8,433.9 L310.2,432.5 L310.5,431.1 L310.9,429.6 L311.3,428.2 L311.7,426.7 L312.0,425.2 L312.4,423.7 L312.8,422.1 L313.2,420.6 L313.6,419.0 L314.0,417.4 L314.4,415.7 L314.8,414.1 L315.2,412.4 L315.6,410.8 L316.0,409.1 L316.5,407.4 L316.9,405.7 L317.3,403.9 L317.7,402.2 L318.1,400.5 L318.5,398.7 L319.0,396.9 L319.4,395.1 L319.8,393.4 L320.2,391.6 L320.6,389.8 L321.0,388.0 L321.5,386.2 L321.9,384.3 L322.3,382.5 L322.7,380.7 L323.1,378.9 L323.5,377.1 L323.9,375.3 L324.3,373.4 L324.7,371.6 L325.1,369.8 L325.5,368.0 L325.9,366.2 L326.3,364.4 L326.7,362.6 L327.0,360.8 L327.4,359.0 L327.8,357.2 L328.1,355.5 L328.5,353.7 L328.9,351.9 L329.2,350.2 L329.6,348.4 L329.9,346.7 L330.3,345.0 L330.6,343.3 L330.9,341.5 L331.3,339.8 L331.6,338.1 L331.9,336.4 L332.3,334.8 L332.6,333.1 L332.9,331.4 L333.2,329.8 L333.5,328.1 L333.8,326.5 L334.1,324.9 L334.4,323.2 L334.7,321.6 L335.0,320.0 L335.3,318.5 L335.6,316.9 L335.9,315.3 L336.2,313.8 L336.5,312.2 L336.8,310.7 L337.1,309.2 L337.4,307.7 L337.6,306.2 L337.9,304.7 L338.2,303.2 L338.5,301.8 L338.7,300.3 L339.0,298.9 L339.3,297.5 L339.6,296.1 L339.8,294.7 L340.1,293.3 L340.4,292.0 L340.6,290.6 L340.9,289.3 L341.1,288.0 L341.4,286.7 L341.7,285.4 L341.9,284.1 L342.2,282.8 L342.4,281.6 L342.7,280.3 L342.9,279.1 L343.2,277.9 L343.4,276.7 L343.7,275.5 L343.9,274.3 L344.2,273.1 L344.4,272.0 L344.7,270.8 L344.9,269.7 L345.2,268.5 L345.4,267.4 L345.7,266.3 L345.9,265.1 L346.2,264.0 L346.4,262.9 L346.7,261.8 L346.9,260.7 L347.1,259.6 L347.4,258.6 L347.6,257.5 L347.9,256.4 L348.1,255.3 L348.4,254.3 L348.6,253.2 L348.9,252.1 L349.1,251.1 L349.4,250.0 L349.6,248.9 L349.9,247.9 L350.1,246.8 L350.4,245.7 L350.6,244.7 L350.9,243.6 L351.1,242.6 L351.4,241.5 L351.6,240.4 L351.9,239.4 L352.2,238.3 L352.4,237.2 L352.7,236.1 L352.9,235.0 L353.2,234.0 L353.5,232.9 L353.7,231.8 L354.0,230.7 L354.3,229.5 L354.5,228.4 L354.8,227.3 L355.1,226.2 L355.3,225.0 L355.6,223.9 L355.9,222.7 L356.2,221.6 L356.4,220.4 L356.7,219.2 L357.0,218.0 L357.3,216.8 L357.6,215.6 L357.9,214.4 L358.2,213.2 L358.5,211.9 L358.8,210.7 L359.1,209.4 L359.4,208.2 L359.7,206.9 L360.0,205.6 L360.3,204.3 L360.6,203.1 L360.9,201.8 L361.3,200.5 L361.6,199.2 L361.9,198.0 L362.3,196.7 L362.6,195.5 L363.0,194.2 L363.3,193.0 L363.7,191.8 L364.0,190.6 L364.4,189.4 L364.8,188.2 L365.2,187.0 L365.6,185.9 L366.0,184.7 L366.4,183.6 L366.8,182.6 L367.3,181.5 L367.7,180.5 L368.1,179.4 L368.6,178.5 L369.1,177.5 L369.5,176.6 L370.0,175.7 L370.5,174.8 L371.0,174.0 L371.5,173.2 L372.0,172.4 L372.6,171.7 L373.1,171.0 L373.7,170.4 L374.2,169.8 L374.5,169.5 L381.5,165.7 L388.5,170.1 L388.5,170.1 L388.9,170.6 L389.3,171.1 L389.6,171.7 L390.0,172.2 L390.3,172.8 L390.7,173.3 L391.0,173.9 L391.3,174.5 L391.6,175.1 L391.9,175.7 L392.2,176.2 L392.4,176.8 L392.7,177.4 L393.0,178.0 L393.2,178.6 L393.5,179.2 L393.7,179.8 L394.0,180.4 L394.2,181.0 L394.4,181.6 L394.7,182.1 L394.9,182.7 L395.1,183.3 L395.4,183.8 L395.6,184.4 L395.8,184.9 L396.0,185.5 L396.2,186.0 L396.4,186.6 L396.7,187.1 L396.9,187.6 L397.1,188.2 L397.3,188.7 L397.5,189.2 L397.7,189.8 L397.9,190.3 L398.1,190.9 L398.3,191.4 L398.5,191.9 L398.7,192.5 L398.9,193.0 L399.1,193.6 L399.3,194.1 L399.5,194.7 L399.8,195.3 L400.0,195.8 L400.2,196.4 L400.4,197.0 L400.6,197.6 L400.8,198.2 L401.0,198.8 L401.2,199.5 L401.4,200.1 L401.6,200.7 L401.8,201.4 L402.0,202.1 L402.2,202.7 L402.5,203.4 L402.7,204.1 L402.9,204.8 L403.1,205.6 L403.3,206.3 L403.6,207.1 L403.8,207.8 L404.0,208.6 L404.2,209.4 L404.5,210.2 L404.7,211.0 L404.9,211.9 L405.2,212.7 L405.4,213.5 L405.6,214.4 L405.9,215.3 L406.1,216.2 L406.4,217.1 L406.6,218.0 L406.8,218.9 L407.1,219.9 L407.3,220.8 L407.6,221.8 L407.8,222.8 L408.1,223.8 L408.3,224.8 L408.6,225.8 L408.8,226.8 L409.1,227.8 L409.3,228.9 L409.6,230.0 L409.8,231.0 L410.1,232.1 L410.4,233.2 L410.6,234.4 L410.9,235.5 L411.1,236.6 L411.4,237.8 L411.7,239.0 L411.9,240.1 L412.2,241.3 L412.5,242.5 L412.7,243.7 L413.0,245.0 L413.3,246.2 L413.5,247.5 L413.8,248.7 L414.1,250.0 L414.3,251.3 L414.6,252.6 L414.9,253.9 L415.2,255.3 L415.4,256.6 L415.7,258.0 L416.0,259.4 L416.3,260.7 L416.5,262.1 L416.8,263.5 L417.1,265.0 L417.4,266.4 L417.6,267.8 L417.9,269.3 L418.2,270.8 L418.5,272.3 L418.8,273.7 L419.1,275.3 L419.3,276.8 L419.6,278.3 L419.9,279.8 L420.2,281.4 L420.5,282.9 L420.8,284.5 L421.1,286.1 L421.3,287.7 L421.6,289.3 L421.9,290.9 L422.2,292.5 L422.5,294.1 L422.8,295.7 L423.1,297.4 L423.4,299.0 L423.7,300.7 L424.0,302.4 L424.3,304.0 L424.6,305.7 L425.0,307.4 L425.3,309.1 L425.6,310.8 L425.9,312.5 L426.2,314.2 L426.5,315.9 L426.9,317.6 L427.2,319.4 L427.5,321.1 L427.8,322.8 L428.2,324.6 L428.5,326.3 L428.8,328.1 L429.2,329.8 L429.5,331.6 L429.9,333.4 L430.2,335.1 L430.6,336.9 L430.9,338.7 L431.3,340.5 L431.6,342.2 L432.0,344.0 L432.4,345.8 L432.7,347.6 L433.1,349.4 L433.5,351.2 L433.8,352.9 L434.2,354.7 L434.6,356.5 L435.0,358.3 L435.3,360.1 L435.7,361.8 L436.1,363.6 L436.5,365.3 L436.9,367.1 L437.3,368.9 L437.6,370.6 L438.0,372.3 L438.4,374.1 L438.8,375.8 L439.2,377.5 L439.5,379.2 L439.9,380.9 L440.3,382.6 L440.7,384.2 L441.1,385.9 L441.4,387.5 L441.8,389.1 L442.2,390.7 L442.5,392.3 L442.9,393.9 L443.3,395.5 L443.6,397.0 L444.0,398.6 L444.3,400.1 L444.7,401.6 L445.0,403.1 L445.3,404.5 L445.7,406.0 L446.0,407.4 L446.3,408.8 L446.7,410.1 L447.0,411.5 L447.3,412.8 L447.6,414.1 L447.9,415.4 L448.2,416.6 L448.5,417.9 L448.8,419.1 L449.0,420.2 L449.3,421.4 L449.6,422.5 L449.9,423.6 L450.1,424.7 L450.4,425.7 L450.6,426.8 L450.9,427.8 L451.1,428.8 L451.4,429.8 L451.6,430.7 L451.9,431.7 L452.1,432.6 L452.4,433.6 L452.6,434.5 L452.9,435.4 L453.1,436.3 L453.4,437.2 L453.7,438.1 L453.9,439.0 L454.2,439.9 L454.5,440.8 L454.8,441.7 L455.1,442.6 L455.4,443.5 L455.7,444.4 L456.0,445.3 L456.3,446.2 L456.6,447.1 L457.0,448.1 L457.3,449.0 L457.7,449.9 L458.1,450.8 L458.4,451.8 L458.8,452.7 L459.2,453.6 L459.6,454.5 L460.0,455.5 L460.5,456.4 L460.9,457.3 L461.3,458.2 L461.8,459.1 L462.2,459.9 L462.7,460.8 L463.2,461.6 L463.6,462.5 L464.1,463.3 L464.6,464.1 L465.1,464.8 L465.6,465.6 L466.1,466.3 L466.7,467.0 L467.2,467.7 L467.7,468.4 L468.3,469.0 L468.8,469.6 L469.4,470.2 L469.9,470.8 L470.5,471.3 L471.1,471.8 L471.6,472.3 L472.2,472.7 L472.8,473.1 L473.4,473.5 L474.0,473.8 L474.5,474.1 L475.1,474.4 L475.7,474.7 L476.3,474.9 L476.9,475.1 L477.4,475.2 L478.0,475.3 L478.6,475.4 L479.1,475.5 L479.7,475.5 L480.2,475.5 L480.8,475.4 L481.3,475.3 L481.8,475.2 L482.3,475.1 L482.9,474.9 L483.4,474.7 L483.9,474.5 L484.4,474.2 L484.9,473.9 L485.4,473.6 L485.8,473.3 L486.3,473.0 L486.8,472.6 L487.3,472.2 L487.7,471.9 L488.2,471.5 L488.6,471.0 L489.1,470.6 L489.5,470.2 L490.0,469.7 L490.4,469.2 L490.8,468.8 L491.2,468.3 L491.7,467.8 L492.1,467.3 L492.5,466.8 L492.9,466.4 L493.3,465.9 L493.7,465.4 L494.1,464.9 L494.5,464.4 L494.9,463.9 L495.3,463.4 L495.7,463.0 L496.1,462.5 L496.5,462.0 L496.9,461.6 L497.2,461.1 L497.6,460.7 L498.0,460.2 L498.4,459.8 L498.7,459.3 L499.1,458.9 L499.5,458.4 L499.9,458.0 L500.2,457.5 L500.6,457.1 L501.0,456.7 L501.3,456.2 L501.7,455.8 L502.1,455.3 L502.4,454.9 L502.8,454.5 L503.2,454.0 L503.5,453.6 L503.9,453.1 L504.3,452.7 L504.7,452.2 L505.0,451.7 L505.4,451.3 L505.8,450.8 L506.2,450.4 L506.5,449.9 L506.9,449.4 L507.3,448.9 L507.7,448.4 L508.1,448.0 L508.5,447.5 L508.9,447.0 L509.3,446.5 L509.7,446.0 L510.1,445.4 L510.5,444.9 L510.9,444.4 L511.3,443.9 L511.7,443.4 L512.2,442.8 L512.6,442.3 L513.0,441.8 L513.4,441.3 L513.9,440.7 L514.3,440.2 L514.7,439.7 L515.1,439.2 L515.6,438.7 L516.0,438.1 L516.4,437.6 L516.9,437.1 L517.3,436.6 L517.8,436.1 L518.2,435.6 L518.7,435.1 L519.1,434.6 L519.6,434.1 L520.0,433.7 L520.5,433.2 L520.9,432.7 L521.4,432.3 L521.8,431.8 L522.3,431.4 L522.7,431.0 L523.2,430.5 L523.6,430.1 L524.1,429.7 L524.5,429.3 L525.0,429.0 L525.5,428.6 L525.9,428.2 L526.4,427.9 L526.8,427.5 L527.3,427.2 L527.8,426.9 L528.2,426.6 L528.7,426.3 L529.2,426.0 L529.6,425.7 L530.1,425.5 L530.5,425.2 L531.0,425.0 L531.5,424.8 L531.9,424.6 L532.4,424.4 L532.9,424.2 L533.3,424.0 L533.8,423.9 L534.3,423.7 L534.7,423.6 L535.2,423.5 L535.6,423.3 L536.1,423.2 L536.6,423.2 L537.0,423.1 L537.5,423.0 L538.0,423.0 L538.4,423.0 L538.9,422.9 L539.3,422.9 L539.8,423.0 L540.3,423.0 L540.7,423.0 L541.2,423.1 L541.6,423.1 L542.1,423.2 L542.5,423.3 L543.0,423.4 L543.4,423.6 L543.9,423.7 L544.4,423.9 L544.8,424.0 L545.3,424.2 L545.7,424.4 L546.1,424.6 L546.6,424.9 L547.0,425.1 L547.5,425.4 L547.9,425.7 L548.4,425.9 L548.8,426.3 L549.2,426.6 L549.7,426.9 L550.1,427.3 L550.6,427.7 L551.0,428.0 L551.4,428.5 L551.9,428.9 L552.3,429.3 L552.7,429.7 L553.1,430.2 L553.6,430.6 L554.0,431.1 L554.4,431.6 L554.8,432.1 L555.3,432.6 L555.7,433.0 L556.1,433.5 L556.5,434.1 L556.9,434.6 L557.3,435.1 L557.7,435.6 L558.1,436.1 L558.6,436.6 L559.0,437.1 L559.4,437.6 L559.8,438.2 L560.2,438.7 L560.6,439.2 L561.0,439.7 L561.4,440.2 L561.7,440.7 L562.1,441.2 L562.5,441.8 L562.9,442.3 L563.3,442.8 L563.6,443.3 L564.0,443.8 L564.4,444.3 L564.7,444.8 L565.1,445.3 L565.4,445.7 L565.8,446.2 L566.1,446.7 L566.4,447.2 L566.8,447.7 L567.1,448.1 L567.4,448.6 L567.7,449.1 L568.0,449.5 L568.3,450.0 L568.7,450.5 L569.0,450.9 L569.3,451.4 L569.6,451.8 L569.9,452.3 L570.1,452.7 L570.4,453.2 L570.7,453.6 L571.0,454.1 L571.3,454.5 L571.6,455.0 L571.9,455.4 L572.1,455.9 L572.4,456.3 L572.7,456.8 L573.0,457.2 L573.2,457.6 L573.5,458.1 L573.8,458.5 L574.0,459.0 L574.3,459.4 L574.6,459.9 L574.8,460.3 L575.1,460.7 L575.4,461.2 L575.6,461.6 L575.9,462.1 L576.2,462.5 L576.4,463.0 L576.7,463.4 L577.0,463.9 L577.2,464.3 L577.5,464.7 L577.7,465.2 L578.0,465.6 L578.3,466.1 L578.5,466.5 L578.8,467.0 L579.0,467.4 L579.3,467.9 L579.5,468.3 L579.8,468.7 L580.1,469.2 L580.3,469.6 L580.6,470.1 L580.8,470.5 L581.1,471.0 L581.3,471.4 L581.6,471.9 L581.9,472.3 L582.1,472.8 L582.4,473.2 L582.6,473.7 L582.9,474.1 L583.1,474.6 L583.4,475.0 L583.6,475.4 L583.9,475.9 L584.1,476.3 L584.4,476.8 L584.6,477.2 L584.9,477.7 L585.1,478.1 L585.4,478.6 L585.7,479.0 L585.9,479.5 L586.2,479.9 L586.4,480.4 L586.7,480.8 L586.9,481.3 L587.2,481.7 L587.4,482.2 L587.7,482.6 L587.9,483.1 L588.2,483.5 L588.4,484.0 L588.7,484.4 L588.9,484.9 L589.2,485.3 L589.5,485.8 L589.7,486.2 L590.0,486.7 L590.2,487.1 L590.5,487.6 L590.7,488.0 L591.0,488.5 L591.2,488.9 L591.5,489.4 L591.8,489.8 L592.0,490.3 L592.3,490.7 L592.5,491.2 L592.8,491.6 L593.0,492.1 L593.3,492.5 L593.6,493.0 L593.8,493.4 L594.1,493.9 L594.3,494.3 L594.6,494.8 L594.9,495.2 L595.1,495.7 L595.4,496.1 L595.7,496.6 L595.9,497.1 L596.2,497.5 L596.5,498.0 L596.7,498.4 L597.0,498.9 L597.3,499.3 L597.5,499.8 L597.8,500.2 L598.1,500.7 L598.3,501.1 L598.6,501.6 L598.9,502.0 L599.1,502.5 L599.4,502.9 L599.7,503.4 L600.0,503.8 L600.2,504.3 L600.5,504.7 L600.8,505.2 L601.1,505.7 L601.4,506.1 L601.6,506.6 L601.9,507.0 L602.2,507.5 L602.5,507.9 L602.8,508.4 L603.1,508.8 L603.3,509.3 L603.6,509.7 L603.9,510.2 L604.2,510.6 L604.5,511.1 L604.8,511.6 L605.1,512.0 L605.4,512.5 L605.7,512.9 L606.0,513.4 L606.3,513.8 L606.6,514.3 L606.9,514.7 L607.2,515.2 L607.5,515.6 L607.8,516.1 L608.1,516.5 L608.4,517.0 L608.7,517.5 L609.0,517.9 L609.3,518.4 L609.6,518.8 L609.9,519.3 L610.2,519.7 L610.6,520.2 L610.9,520.6 L611.2,521.1 L611.5,521.5 L611.8,522.0 L612.2,522.4 L612.5,522.9 L612.8,523.3 L613.1,523.8 L613.5,524.2 L613.8,524.7 L614.1,525.1 L614.5,525.6 L614.8,526.0 L615.2,526.5 L615.5,526.9 L615.8,527.3 L616.2,527.8 L616.5,528.2 L616.9,528.7 L617.2,529.1 L617.6,529.5 L617.9,530.0 L618.3,530.4 L618.7,530.9 L619.0,531.3 L619.4,531.7 L619.8,532.2 L620.1,532.6 L620.5,533.0 L620.9,533.5 L621.2,533.9 L621.6,534.3 L622.0,534.7 L622.4,535.2 L622.8,535.6 L623.2,536.0 L623.6,536.4 L623.9,536.9 L624.3,537.3 L624.7,537.7 L625.1,538.1 L625.5,538.5 L625.9,539.0 L626.4,539.4 L626.8,539.8 L627.2,540.2 L627.6,540.6 L628.0,541.0 L628.4,541.4 L628.9,541.8 L629.3,542.2 L629.7,542.6 L630.1,543.0 L630.6,543.4 L631.0,543.8 L631.4,544.2 L631.9,544.6 L632.3,545.0 L632.7,545.4 L633.2,545.7 L633.6,546.1 L634.0,546.5 L634.5,546.9 L634.9,547.2 L635.3,547.6 L635.7,548.0 L636.2,548.3 L636.6,548.7 L637.0,549.0 L637.4,549.3 L637.8,549.7 L638.3,550.0 L638.7,550.3 L639.1,550.7 L639.5,551.0 L639.9,551.3 L640.3,551.6 L640.6,551.9 L641.0,552.2 L641.4,552.5 L641.8,552.8 L642.1,553.0 L642.5,553.3 L642.9,553.6 L643.2,553.8 L643.5,554.1 L643.9,554.3 L644.2,554.6 L644.5,554.8 L644.8,555.0 L645.2,555.2 L645.4,555.4 L645.7,555.6 L646.0,555.8 L646.3,556.0 L646.5,556.2 L646.8,556.4 L647.0,556.5 L647.3,556.7 L647.5,556.8 L647.5,556.8 L648.0,556.7 L648.6,556.5 L649.1,556.4 L649.7,556.3 L650.3,556.1 L650.8,556.0 L651.4,555.9 L651.9,555.8 L652.5,555.7 L653.1,555.6 L653.6,555.5 L654.2,555.4 L654.8,555.3 L655.4,555.2 L655.9,555.1 L656.5,555.0 L657.1,554.9 L657.7,554.9 L658.2,554.8 L658.8,554.7 L659.4,554.7 L660.0,554.6 L660.6,554.6 L661.2,554.5 L661.7,554.5 L662.3,554.4 L662.9,554.4 L663.5,554.4 L664.1,554.3 L664.7,554.3 L665.3,554.3 L665.8,554.3 L666.4,554.3 L667.0,554.3 L667.6,554.3 L668.2,554.3 L668.8,554.3 L669.4,554.3 L669.9,554.3 L670.5,554.3 L671.1,554.4 L671.7,554.4 L672.3,554.4 L672.8,554.5 L673.4,554.5 L674.0,554.5 L674.6,554.6 L675.2,554.7 L675.7,554.7 L676.3,554.8 L676.9,554.9 L677.4,554.9 L678.0,555.0 L678.6,555.1 L679.1,555.2 L679.7,555.3 L680.2,555.4 L680.8,555.5 L681.4,555.6 L681.9,555.7 L682.5,555.8 L683.0,556.0 L683.6,556.1 L684.1,556.2 L684.6,556.4 L685.2,556.5 L685.7,556.7 L686.2,556.8 L686.8,557.0 L687.3,557.1 L687.8,557.3 L688.3,557.5 L688.8,557.7 L689.3,557.9 L689.8,558.0 L690.3,558.2 L690.8,558.4 L691.3,558.7 L691.8,558.9 L692.3,559.1 L692.8,559.3 L693.3,559.5 L693.8,559.8 L694.2,560.0 L694.7,560.2 L695.2,560.5 L695.6,560.7 L696.1,561.0 L696.5,561.2 L697.0,561.4 L697.4,561.7 L697.9,561.9 L698.3,562.1 L698.7,562.3 L699.2,562.5 L699.6,562.7 L700.0,562.9 L700.4,563.1 L700.9,563.2 L701.3,563.4 L701.7,563.5 L702.1,563.6 L702.6,563.7 L703.0,563.8 L703.4,563.8 L703.9,563.9 L704.4,563.9 L704.9,564.0 L705.4,564.0 L706.0,564.0 L706.6,564.1 L707.2,564.1 L707.9,564.1 L708.6,564.1 L709.4,564.2 L710.2,564.2 L711.0,564.2 L711.8,564.2 L712.7,564.2 L713.6,564.2 L714.6,564.2 L715.6,564.2 L716.6,564.2 L717.6,564.2 L718.7,564.2 L719.7,564.2 L720.8,564.2 L722.0,564.2 L723.1,564.2 L724.3,564.2 L725.5,564.2 L726.8,564.2 L728.0,564.2 L729.3,564.2 L730.6,564.2 L731.9,564.2 L733.2,564.1 L734.5,564.1 L735.9,564.1 L737.3,564.1 L738.6,564.1 L740.0,564.1 L741.4,564.1 L742.9,564.0 L744.3,564.0 L745.7,564.0 L747.2,564.0 L748.7,564.0 L750.1,564.0 L751.6,563.9 L753.1,563.9 L754.6,563.9 L756.1,563.9 L757.6,563.9 L759.1,563.9 L760.6,563.9 L762.1,563.8 L763.6,563.8 L765.1,563.8 L766.6,563.8 L768.1,563.8 L769.6,563.8 L771.1,563.8 L772.6,563.8 L774.0,563.8 L775.5,563.8 L777.0,563.8 L778.5,563.8 L779.9,563.8 L781.4,563.8 L782.8,563.8 L784.2,563.8 L785.6,563.8 L787.0,563.8 L788.4,563.8 L789.8,563.8 L791.2,563.8 L792.5,563.9 L793.8,563.9 L795.1,563.9 L796.4,563.9 L797.7,563.9 L799.0,564.0 L800.2,564.0" fill="none" stroke="#F14040" stroke-width="5.3" stroke-linejoin="round" stroke-linecap="round"/>
<path d="M152.4,564.0 L153.2,564.0 L154.0,564.0 L154.8,564.0 L155.6,564.0 L156.4,564.0 L157.2,564.0 L158.0,564.0 L158.8,564.0 L159.6,564.0 L160.4,564.0 L161.2,564.0 L162.0,564.0 L162.8,564.0 L163.6,564.0 L164.4,564.0 L165.2,564.0 L166.0,564.0 L166.8,564.0 L167.6,564.0 L168.3,564.0 L169.1,564.0 L169.9,564.0 L170.7,564.0 L171.5,564.0 L172.3,564.0 L173.1,564.0 L173.9,564.0 L174.7,564.0 L175.5,564.0 L176.2,564.0 L177.0,564.0 L177.8,564.0 L178.6,564.0 L179.4,564.0 L180.1,564.0 L180.9,564.0 L181.7,564.0 L182.5,564.0 L183.2,564.0 L184.0,564.0 L184.8,564.0 L185.5,564.0 L186.3,564.0 L187.0,564.0 L187.8,564.0 L188.6,564.0 L189.3,564.1 L190.1,564.1 L190.8,564.1 L191.6,564.1 L192.3,564.1 L193.0,564.1 L193.8,564.0 L194.5,564.0 L195.3,564.0 L196.0,564.0 L196.7,564.0 L197.4,564.0 L198.2,564.0 L198.9,564.0 L199.6,564.0 L200.3,564.0 L201.0,564.0 L201.7,564.0 L202.4,564.0 L203.1,564.0 L203.8,564.0 L204.5,564.0 L205.2,564.0 L205.9,564.0 L206.6,564.0 L207.2,564.0 L207.9,563.9 L208.6,563.9 L209.2,563.9 L209.9,563.9 L210.6,563.9 L211.2,563.9 L211.9,563.9 L212.5,563.8 L213.1,563.8 L213.8,563.8 L214.4,563.8 L215.0,563.8 L215.7,563.8 L216.3,563.7 L216.9,563.7 L217.5,563.7 L218.1,563.7 L218.7,563.7 L219.3,563.6 L219.9,563.6 L220.5,563.6 L221.1,563.5 L221.6,563.5 L222.2,563.5 L222.8,563.5 L223.3,563.4 L223.9,563.4 L224.5,563.3 L225.0,563.3 L225.5,563.3 L226.1,563.2 L226.6,563.2 L227.2,563.1 L227.7,563.1 L228.2,563.0 L228.8,563.0 L229.3,562.9 L229.8,562.8 L230.3,562.8 L230.8,562.7 L231.3,562.6 L231.9,562.6 L232.4,562.5 L232.9,562.4 L233.4,562.3 L233.9,562.2 L234.4,562.1 L234.8,562.1 L235.3,562.0 L235.8,561.8 L236.3,561.7 L236.8,561.6 L237.3,561.5 L237.8,561.4 L238.2,561.3 L238.7,561.1 L239.2,561.0 L239.7,560.9 L240.1,560.7 L240.6,560.6 L241.1,560.4 L241.5,560.2 L242.0,560.1 L242.5,559.9 L242.9,559.7 L243.4,559.6 L243.9,559.4 L244.3,559.2 L244.8,559.0 L245.2,558.8 L245.7,558.5 L246.2,558.3 L246.6,558.1 L247.1,557.9 L247.5,557.6 L248.0,557.4 L248.5,557.1 L248.9,556.9 L249.4,556.6 L249.8,556.3 L250.3,556.1 L250.8,555.8 L251.2,555.5 L251.7,555.2 L252.1,554.9 L252.6,554.6 L253.1,554.3 L253.5,553.9 L254.0,553.6 L254.4,553.3 L254.9,552.9 L255.3,552.6 L255.8,552.2 L256.2,551.9 L256.7,551.5 L257.1,551.2 L257.6,550.8 L258.0,550.4 L258.5,550.0 L258.9,549.6 L259.4,549.2 L259.8,548.9 L260.3,548.5 L260.7,548.1 L261.1,547.6 L261.6,547.2 L262.0,546.8 L262.4,546.4 L262.9,546.0 L263.3,545.6 L263.7,545.1 L264.1,544.7 L264.6,544.3 L265.0,543.8 L265.4,543.4 L265.8,542.9 L266.2,542.5 L266.6,542.0 L267.0,541.6 L267.4,541.1 L267.8,540.7 L268.2,540.2 L268.6,539.8 L269.0,539.3 L269.4,538.8 L269.7,538.4 L270.1,537.9 L270.5,537.4 L270.9,537.0 L271.2,536.5 L271.6,536.0 L272.0,535.5 L272.3,535.1 L272.7,534.6 L273.0,534.1 L273.4,533.6 L273.7,533.2 L274.0,532.7 L274.4,532.2 L274.7,531.7 L275.0,531.3 L275.3,530.8 L275.6,530.3 L275.9,529.8 L276.2,529.3 L276.5,528.9 L276.8,528.4 L277.1,527.9 L277.4,527.4 L277.7,527.0 L277.9,526.5 L278.2,526.0 L278.5,525.6 L278.7,525.1 L279.0,524.6 L279.2,524.1 L279.5,523.7 L279.7,523.2 L280.0,522.7 L280.2,522.2 L280.4,521.8 L280.7,521.3 L280.9,520.8 L281.1,520.3 L281.3,519.9 L281.6,519.4 L281.8,518.9 L282.0,518.4 L282.2,517.9 L282.4,517.5 L282.6,517.0 L282.8,516.5 L283.0,516.0 L283.3,515.5 L283.5,515.0 L283.7,514.5 L283.9,514.0 L284.1,513.5 L284.3,513.0 L284.5,512.5 L284.7,512.0 L284.9,511.5 L285.1,510.9 L285.3,510.4 L285.5,509.9 L285.7,509.4 L285.9,508.8 L286.1,508.3 L286.3,507.8 L286.5,507.2 L286.7,506.7 L286.9,506.1 L287.1,505.6 L287.3,505.0 L287.5,504.4 L287.7,503.9 L287.9,503.3 L288.2,502.7 L288.4,502.1 L288.6,501.5 L288.8,500.9 L289.1,500.3 L289.3,499.7 L289.5,499.1 L289.7,498.5 L290.0,497.9 L290.2,497.3 L290.4,496.7 L290.7,496.0 L290.9,495.4 L291.1,494.8 L291.4,494.1 L291.6,493.5 L291.8,492.9 L292.1,492.2 L292.3,491.6 L292.5,490.9 L292.8,490.3 L293.0,489.6 L293.2,489.0 L293.5,488.3 L293.7,487.7 L293.9,487.0 L294.1,486.3 L294.4,485.7 L294.6,485.0 L294.8,484.3 L295.0,483.7 L295.2,483.0 L295.5,482.3 L295.7,481.7 L295.9,481.0 L296.1,480.3 L296.3,479.7 L296.5,479.0 L296.7,478.3 L296.9,477.6 L297.1,477.0 L297.3,476.3 L297.5,475.6 L297.7,475.0 L297.9,474.3 L298.1,473.6 L298.3,472.9 L298.5,472.3 L298.7,471.6 L298.8,470.9 L299.0,470.2 L299.2,469.6 L299.4,468.9 L299.6,468.2 L299.8,467.5 L300.0,466.9 L300.2,466.2 L300.4,465.5 L300.6,464.8 L300.8,464.2 L301.0,463.5 L301.2,462.8 L301.4,462.1 L301.6,461.4 L301.8,460.7 L302.0,460.0 L302.2,459.3 L302.4,458.6 L302.6,457.9 L302.8,457.2 L303.1,456.4 L303.3,455.6 L303.5,454.8 L303.8,454.0 L304.0,453.2 L304.3,452.4 L304.5,451.5 L304.8,450.6 L305.0,449.7 L305.3,448.8 L305.6,447.8 L305.9,446.8 L306.2,445.8 L306.5,444.7 L306.8,443.6 L307.1,442.5 L307.4,441.3 L307.7,440.1 L308.0,438.9 L308.4,437.7 L308.7,436.4 L309.1,435.1 L309.4,433.7 L309.8,432.4 L310.2,431.0 L310.5,429.6 L310.9,428.1 L311.3,426.7 L311.7,425.2 L312.0,423.7 L312.4,422.1 L312.8,420.6 L313.2,419.0 L313.6,417.4 L314.0,415.8 L314.4,414.2 L314.8,412.5 L315.3,410.9 L315.7,409.2 L316.1,407.5 L316.5,405.8 L316.9,404.1 L317.3,402.4 L317.7,400.7 L318.2,398.9 L318.6,397.2 L319.0,395.4 L319.4,393.6 L319.8,391.9 L320.3,390.1 L320.7,388.3 L321.1,386.5 L321.5,384.7 L321.9,382.9 L322.3,381.2 L322.7,379.4 L323.2,377.6 L323.6,375.8 L324.0,374.0 L324.4,372.2 L324.8,370.4 L325.2,368.6 L325.5,366.9 L325.9,365.1 L326.3,363.3 L326.7,361.6 L327.1,359.8 L327.4,358.1 L327.8,356.4 L328.2,354.6 L328.5,352.9 L328.9,351.2 L329.2,349.5 L329.6,347.8 L329.9,346.1 L330.3,344.5 L330.6,342.8 L331.0,341.1 L331.3,339.5 L331.6,337.8 L332.0,336.2 L332.3,334.6 L332.6,332.9 L332.9,331.3 L333.2,329.7 L333.6,328.1 L333.9,326.6 L334.2,325.0 L334.5,323.4 L334.8,321.9 L335.1,320.3 L335.4,318.8 L335.7,317.3 L336.0,315.7 L336.3,314.2 L336.6,312.7 L336.8,311.3 L337.1,309.8 L337.4,308.3 L337.7,306.9 L338.0,305.4 L338.3,304.0 L338.5,302.6 L338.8,301.2 L339.1,299.8 L339.3,298.4 L339.6,297.0 L339.9,295.6 L340.1,294.3 L340.4,292.9 L340.7,291.6 L340.9,290.3 L341.2,289.0 L341.5,287.7 L341.7,286.4 L342.0,285.1 L342.2,283.8 L342.5,282.6 L342.7,281.4 L343.0,280.1 L343.2,278.9 L343.5,277.7 L343.7,276.5 L344.0,275.3 L344.2,274.1 L344.5,272.9 L344.7,271.7 L345.0,270.6 L345.2,269.4 L345.5,268.3 L345.7,267.1 L346.0,266.0 L346.2,264.9 L346.5,263.8 L346.7,262.6 L347.0,261.5 L347.2,260.4 L347.5,259.3 L347.7,258.2 L348.0,257.2 L348.2,256.1 L348.5,255.0 L348.7,253.9 L349.0,252.9 L349.2,251.8 L349.5,250.7 L349.7,249.7 L350.0,248.6 L350.2,247.6 L350.5,246.5 L350.7,245.5 L351.0,244.4 L351.2,243.4 L351.5,242.3 L351.8,241.3 L352.0,240.2 L352.3,239.2 L352.6,238.1 L352.8,237.1 L353.1,236.1 L353.4,235.0 L353.6,234.0 L353.9,232.9 L354.2,231.9 L354.5,230.8 L354.7,229.8 L355.0,228.7 L355.3,227.7 L355.6,226.6 L355.9,225.6 L356.2,224.5 L356.4,223.5 L356.7,222.4 L357.0,221.3 L357.3,220.3 L357.6,219.2 L357.9,218.1 L358.2,217.0 L358.5,215.9 L358.9,214.8 L359.2,213.7 L359.5,212.6 L359.8,211.5 L360.1,210.4 L360.5,209.3 L360.8,208.2 L361.1,207.1 L361.5,206.0 L361.8,204.9 L362.1,203.8 L362.5,202.7 L362.9,201.6 L363.2,200.5 L363.6,199.4 L363.9,198.4 L364.3,197.3 L364.7,196.3 L365.1,195.2 L365.5,194.2 L365.9,193.2 L366.3,192.3 L366.7,191.3 L367.1,190.3 L367.5,189.4 L367.9,188.5 L368.4,187.6 L368.8,186.8 L369.3,185.9 L369.7,185.1 L370.2,184.3 L370.6,183.6 L371.1,182.8 L371.6,182.1 L372.1,181.5 L372.6,180.8 L373.1,180.2 L373.6,179.6 L374.1,179.1 L374.6,178.6 L375.1,178.1 L375.6,177.7 L376.1,177.3 L376.6,177.0 L377.1,176.7 L377.6,176.4 L378.1,176.2 L378.6,176.1 L379.1,176.0 L379.6,175.9 L380.1,175.9 L380.5,176.0 L381.0,176.1 L381.5,176.2 L381.9,176.4 L382.3,176.6 L382.8,176.9 L383.2,177.2 L383.6,177.6 L384.0,178.0 L384.4,178.4 L384.8,178.8 L385.2,179.3 L385.6,179.8 L385.9,180.3 L386.3,180.8 L386.7,181.3 L387.0,181.8 L387.4,182.4 L387.7,182.9 L388.1,183.5 L388.4,184.0 L388.7,184.6 L389.1,185.1 L389.4,185.7 L389.7,186.2 L390.0,186.8 L390.3,187.4 L390.7,187.9 L391.0,188.5 L391.3,189.1 L391.5,189.7 L391.8,190.2 L392.1,190.8 L392.4,191.4 L392.7,191.9 L393.0,192.5 L393.2,193.0 L393.5,193.6 L393.7,194.2 L394.0,194.7 L394.3,195.3 L394.5,195.8 L394.8,196.4 L395.0,196.9 L395.2,197.5 L395.5,198.1 L395.7,198.6 L396.0,199.2 L396.2,199.8 L396.4,200.3 L396.7,200.9 L396.9,201.5 L397.1,202.1 L397.4,202.7 L397.6,203.3 L397.8,203.9 L398.0,204.5 L398.3,205.2 L398.5,205.8 L398.7,206.4 L398.9,207.1 L399.2,207.8 L399.4,208.4 L399.6,209.1 L399.9,209.8 L400.1,210.6 L400.3,211.3 L400.6,212.0 L400.8,212.8 L401.0,213.6 L401.3,214.3 L401.5,215.1 L401.8,216.0 L402.0,216.8 L402.3,217.6 L402.5,218.5 L402.8,219.4 L403.1,220.3 L403.3,221.2 L403.6,222.2 L403.9,223.2 L404.1,224.1 L404.4,225.1 L404.7,226.2 L405.0,227.2 L405.3,228.3 L405.6,229.3 L405.8,230.4 L406.1,231.5 L406.4,232.6 L406.7,233.8 L407.0,234.9 L407.3,236.1 L407.6,237.3 L407.9,238.5 L408.2,239.7 L408.5,240.9 L408.9,242.2 L409.2,243.4 L409.5,244.7 L409.8,246.0 L410.1,247.2 L410.4,248.5 L410.7,249.9 L411.0,251.2 L411.3,252.5 L411.6,253.9 L411.9,255.2 L412.2,256.6 L412.5,258.0 L412.8,259.4 L413.1,260.8 L413.4,262.2 L413.7,263.6 L414.0,265.0 L414.3,266.5 L414.6,267.9 L414.9,269.4 L415.2,270.8 L415.5,272.3 L415.8,273.8 L416.1,275.2 L416.4,276.7 L416.7,278.2 L416.9,279.7 L417.2,281.2 L417.5,282.8 L417.8,284.3 L418.1,285.8 L418.4,287.4 L418.7,288.9 L418.9,290.5 L419.2,292.0 L419.5,293.6 L419.8,295.2 L420.1,296.8 L420.4,298.4 L420.7,299.9 L420.9,301.5 L421.2,303.2 L421.5,304.8 L421.8,306.4 L422.1,308.0 L422.4,309.6 L422.7,311.3 L423.0,312.9 L423.3,314.6 L423.6,316.2 L423.9,317.9 L424.2,319.5 L424.5,321.2 L424.8,322.9 L425.1,324.5 L425.5,326.2 L425.8,327.9 L426.1,329.6 L426.4,331.3 L426.8,333.0 L427.1,334.7 L427.4,336.4 L427.8,338.1 L428.1,339.8 L428.5,341.5 L428.8,343.3 L429.2,345.0 L429.5,346.7 L429.9,348.5 L430.2,350.2 L430.6,351.9 L431.0,353.7 L431.4,355.4 L431.7,357.1 L432.1,358.8 L432.5,360.6 L432.9,362.3 L433.2,364.0 L433.6,365.7 L434.0,367.5 L434.4,369.2 L434.8,370.9 L435.1,372.6 L435.5,374.3 L435.9,375.9 L436.3,377.6 L436.6,379.3 L437.0,380.9 L437.4,382.6 L437.8,384.2 L438.1,385.8 L438.5,387.4 L438.9,389.0 L439.2,390.6 L439.6,392.2 L439.9,393.8 L440.3,395.3 L440.6,396.8 L440.9,398.3 L441.3,399.8 L441.6,401.3 L441.9,402.8 L442.2,404.2 L442.6,405.7 L442.9,407.1 L443.2,408.4 L443.5,409.8 L443.7,411.1 L444.0,412.5 L444.3,413.8 L444.6,415.0 L444.8,416.3 L445.1,417.5 L445.3,418.7 L445.5,419.9 L445.8,421.0 L446.0,422.2 L446.2,423.3 L446.4,424.4 L446.6,425.4 L446.8,426.4 L446.9,427.5 L447.1,428.5 L447.3,429.4 L447.5,430.4 L447.6,431.3 L447.8,432.2 L448.0,433.1 L448.1,434.0 L448.3,434.9 L448.4,435.8 L448.6,436.6 L448.7,437.4 L448.9,438.2 L449.0,439.0 L449.2,439.8 L449.3,440.6 L449.5,441.4 L449.7,442.1 L449.8,442.9 L450.0,443.6 L450.2,444.3 L450.3,445.1 L450.5,445.8 L450.7,446.5 L450.9,447.2 L451.1,447.9 L451.3,448.6 L451.5,449.3 L451.7,450.0 L451.9,450.7 L452.2,451.3 L452.4,452.0 L452.7,452.7 L452.9,453.4 L453.2,454.1 L453.5,454.8 L453.8,455.5 L454.1,456.1 L454.4,456.8 L454.7,457.5 L455.1,458.2 L455.4,459.0 L455.8,459.7 L456.2,460.4 L456.6,461.1 L457.0,461.9 L457.4,462.6 L457.9,463.3 L458.3,464.1 L458.8,464.8 L459.2,465.6 L459.7,466.3 L460.2,467.1 L460.7,467.8 L461.2,468.5 L461.7,469.3 L462.3,470.0 L462.8,470.7 L463.3,471.4 L463.9,472.2 L464.4,472.9 L465.0,473.5 L465.5,474.2 L466.1,474.9 L466.7,475.6 L467.2,476.2 L467.8,476.8 L468.4,477.5 L469.0,478.1 L469.6,478.6 L470.1,479.2 L470.7,479.8 L471.3,480.3 L471.9,480.8 L472.5,481.3 L473.1,481.8 L473.6,482.2 L474.2,482.6 L474.8,483.0 L475.4,483.4 L475.9,483.7 L476.5,484.1 L477.0,484.3 L477.6,484.6 L478.1,484.8 L478.7,485.0 L479.2,485.2 L479.7,485.3 L480.3,485.4 L480.8,485.5 L481.3,485.6 L481.8,485.6 L482.2,485.5 L482.7,485.5 L483.2,485.4 L483.6,485.3 L484.1,485.1 L484.6,484.9 L485.0,484.7 L485.4,484.5 L485.9,484.3 L486.3,484.0 L486.7,483.7 L487.2,483.4 L487.6,483.1 L488.0,482.8 L488.4,482.4 L488.8,482.0 L489.2,481.7 L489.6,481.3 L490.0,480.9 L490.4,480.4 L490.8,480.0 L491.2,479.6 L491.6,479.1 L492.0,478.7 L492.4,478.2 L492.8,477.8 L493.2,477.3 L493.6,476.8 L494.0,476.4 L494.4,475.9 L494.8,475.5 L495.2,475.0 L495.6,474.5 L496.1,474.1 L496.5,473.6 L496.9,473.2 L497.3,472.7 L497.7,472.3 L498.1,471.8 L498.6,471.4 L499.0,470.9 L499.4,470.5 L499.8,470.0 L500.3,469.6 L500.7,469.2 L501.1,468.7 L501.6,468.3 L502.0,467.9 L502.4,467.5 L502.9,467.1 L503.3,466.6 L503.7,466.2 L504.2,465.8 L504.6,465.4 L505.0,465.0 L505.5,464.6 L505.9,464.2 L506.4,463.8 L506.8,463.4 L507.3,463.1 L507.7,462.7 L508.2,462.3 L508.6,461.9 L509.1,461.6 L509.5,461.2 L510.0,460.9 L510.4,460.5 L510.9,460.2 L511.3,459.8 L511.8,459.5 L512.2,459.2 L512.7,458.9 L513.1,458.6 L513.6,458.2 L514.1,457.9 L514.5,457.6 L515.0,457.4 L515.4,457.1 L515.9,456.8 L516.4,456.5 L516.8,456.3 L517.3,456.0 L517.7,455.8 L518.2,455.5 L518.7,455.3 L519.1,455.0 L519.6,454.8 L520.0,454.6 L520.5,454.4 L521.0,454.2 L521.4,454.0 L521.9,453.8 L522.4,453.6 L522.8,453.5 L523.3,453.3 L523.7,453.2 L524.2,453.0 L524.7,452.9 L525.1,452.8 L525.6,452.6 L526.0,452.5 L526.5,452.4 L527.0,452.3 L527.4,452.3 L527.9,452.2 L528.3,452.1 L528.8,452.1 L529.3,452.0 L529.7,452.0 L530.2,452.0 L530.6,452.0 L531.1,452.0 L531.5,452.0 L532.0,452.0 L532.5,452.0 L532.9,452.0 L533.4,452.1 L533.8,452.2 L534.3,452.2 L534.7,452.3 L535.2,452.4 L535.6,452.5 L536.1,452.6 L536.5,452.7 L537.0,452.9 L537.4,453.0 L537.9,453.2 L538.3,453.4 L538.7,453.5 L539.2,453.7 L539.6,454.0 L540.1,454.2 L540.5,454.4 L540.9,454.7 L541.4,454.9 L541.8,455.2 L542.2,455.5 L542.7,455.8 L543.1,456.1 L543.5,456.4 L544.0,456.7 L544.4,457.1 L544.8,457.4 L545.2,457.8 L545.7,458.2 L546.1,458.5 L546.5,458.9 L546.9,459.3 L547.3,459.7 L547.7,460.1 L548.1,460.5 L548.5,461.0 L548.9,461.4 L549.3,461.8 L549.7,462.2 L550.0,462.6 L550.4,463.1 L550.8,463.5 L551.1,463.9 L551.5,464.3 L551.9,464.8 L552.2,465.2 L552.5,465.6 L552.9,466.0 L553.2,466.4 L553.5,466.8 L553.8,467.2 L554.2,467.6 L554.5,468.0 L554.8,468.3 L555.0,468.7 L555.3,469.1 L555.6,469.4 L555.9,469.7 L556.1,470.1 L556.4,470.4 L556.7,470.8 L556.9,471.1 L557.2,471.4 L557.4,471.7 L557.7,472.1 L557.9,472.4 L558.1,472.7 L558.4,473.0 L558.6,473.4 L558.9,473.7 L559.1,474.0 L559.3,474.4 L559.6,474.7 L559.8,475.0 L560.1,475.4 L560.3,475.7 L560.6,476.1 L560.8,476.5 L561.1,476.8 L561.3,477.2 L561.6,477.6 L561.8,478.0 L562.1,478.4 L562.4,478.9 L562.7,479.3 L563.0,479.8 L563.3,480.2 L563.6,480.7 L563.9,481.2 L564.2,481.7 L564.5,482.2 L564.9,482.8 L565.2,483.3 L565.6,483.9 L566.0,484.5 L566.4,485.1 L566.8,485.7 L567.2,486.4 L567.6,487.1 L568.1,487.7 L568.5,488.4 L569.0,489.2 L569.4,489.9 L569.9,490.6 L570.4,491.4 L570.9,492.1 L571.4,492.9 L571.8,493.7 L572.3,494.4 L572.8,495.2 L573.3,496.0 L573.8,496.7 L574.3,497.5 L574.8,498.3 L575.3,499.0 L575.7,499.8 L576.2,500.5 L576.7,501.3 L577.1,502.0 L577.6,502.7 L578.0,503.4 L578.4,504.1 L578.8,504.8 L579.2,505.4 L579.6,506.0 L580.0,506.7 L580.3,507.2 L580.7,507.8 L581.0,508.4 L581.3,508.9 L581.7,509.5 L582.0,510.0 L582.3,510.5 L582.6,511.0 L582.8,511.5 L583.1,511.9 L583.4,512.4 L583.6,512.8 L583.9,513.3 L584.1,513.7 L584.4,514.2 L584.6,514.6 L584.9,515.0 L585.1,515.4 L585.3,515.8 L585.5,516.2 L585.8,516.6 L586.0,517.0 L586.2,517.4 L586.5,517.8 L586.7,518.2 L586.9,518.6 L587.1,519.0 L587.4,519.4 L587.6,519.8 L587.9,520.2 L588.1,520.6 L588.3,521.0 L588.6,521.5 L588.8,521.9 L589.1,522.3 L589.4,522.7 L589.6,523.2 L589.9,523.6 L590.2,524.0 L590.4,524.5 L590.7,524.9 L591.0,525.3 L591.2,525.8 L591.5,526.2 L591.8,526.7 L592.1,527.1 L592.4,527.6 L592.7,528.0 L592.9,528.5 L593.2,528.9 L593.5,529.4 L593.8,529.8 L594.1,530.3 L594.4,530.8 L594.7,531.2 L595.0,531.7 L595.3,532.1 L595.6,532.6 L596.0,533.1 L596.3,533.5 L596.6,534.0 L596.9,534.4 L597.2,534.9 L597.5,535.4 L597.8,535.8 L598.2,536.3 L598.5,536.8 L598.8,537.2 L599.1,537.7 L599.4,538.2 L599.8,538.6 L600.1,539.1 L600.4,539.5 L600.7,540.0 L601.1,540.5 L601.4,540.9 L601.7,541.4 L602.1,541.8 L602.4,542.3 L602.7,542.7 L603.1,543.2 L603.4,543.7 L603.7,544.1 L604.0,544.6 L604.4,545.0 L604.7,545.4 L605.0,545.9 L605.4,546.3 L605.7,546.8 L606.0,547.2 L606.4,547.6 L606.7,548.1 L607.0,548.5 L607.4,548.9 L607.7,549.4 L608.0,549.8 L608.4,550.2 L608.7,550.6 L609.0,551.1 L609.4,551.5 L609.7,551.9 L610.0,552.3 L610.4,552.7 L610.7,553.1 L611.0,553.5 L611.4,553.9 L611.7,554.3 L612.0,554.7 L612.3,555.0 L612.7,555.4 L613.0,555.8 L613.3,556.2 L613.6,556.5 L613.9,556.9 L614.3,557.2 L614.6,557.6 L614.9,558.0 L615.2,558.3 L615.5,558.6 L615.8,559.0 L616.1,559.3 L616.5,559.6 L616.8,560.0 L617.1,560.3 L617.4,560.6 L617.7,560.9 L618.0,561.2 L618.3,561.5 L618.6,561.8 L618.9,562.1 L619.2,562.3 L619.4,562.6 L619.7,562.9 L620.0,563.1 L620.3,563.4 L620.3,563.4 L620.6,563.5 L621.0,563.6 L621.4,563.6 L621.8,563.7 L622.2,563.7 L622.6,563.8 L623.1,563.8 L623.5,563.8 L624.0,563.8 L624.5,563.7 L625.0,563.7 L625.5,563.6 L626.1,563.6 L626.6,563.5 L627.2,563.4 L627.7,563.4 L628.3,563.3 L628.9,563.2 L629.5,563.0 L630.1,562.9 L630.8,562.8 L631.4,562.7 L632.1,562.5 L632.7,562.4 L633.4,562.2 L634.0,562.1 L634.7,561.9 L635.4,561.7 L636.1,561.6 L636.8,561.4 L637.5,561.2 L638.2,561.0 L638.9,560.8 L639.6,560.6 L640.4,560.4 L641.1,560.3 L641.8,560.1 L642.6,559.9 L643.3,559.7 L644.0,559.5 L644.8,559.3 L645.5,559.1 L646.2,558.9 L647.0,558.7 L647.7,558.5 L648.5,558.3 L649.2,558.1 L649.9,558.0 L650.7,557.8 L651.4,557.6 L652.1,557.4 L652.9,557.3 L653.6,557.1 L654.3,557.0 L655.0,556.8 L655.7,556.7 L656.5,556.5 L657.2,556.4 L657.9,556.3 L658.6,556.2 L659.2,556.0 L659.9,555.9 L660.6,555.8 L661.3,555.7 L662.0,555.6 L662.7,555.6 L663.3,555.5 L664.0,555.4 L664.7,555.3 L665.3,555.3 L666.0,555.2 L666.6,555.2 L667.3,555.2 L667.9,555.1 L668.6,555.1 L669.2,555.1 L669.9,555.1 L670.5,555.1 L671.1,555.1 L671.8,555.1 L672.4,555.1 L673.0,555.1 L673.6,555.1 L674.2,555.2 L674.8,555.2 L675.5,555.3 L676.1,555.3 L676.7,555.4 L677.3,555.5 L677.9,555.6 L678.5,555.6 L679.1,555.7 L679.7,555.8 L680.2,556.0 L680.8,556.1 L681.4,556.2 L682.0,556.3 L682.6,556.5 L683.1,556.6 L683.7,556.8 L684.3,556.9 L684.8,557.1 L685.4,557.3 L685.9,557.4 L686.5,557.6 L687.0,557.8 L687.6,558.0 L688.1,558.2 L688.6,558.4 L689.1,558.6 L689.6,558.8 L690.1,559.0 L690.6,559.2 L691.1,559.4 L691.6,559.6 L692.1,559.8 L692.6,560.0 L693.0,560.2 L693.5,560.4 L693.9,560.6 L694.4,560.8 L694.8,561.0 L695.2,561.2 L695.7,561.4 L696.1,561.6 L696.5,561.8 L697.0,561.9 L697.4,562.1 L697.9,562.3 L698.3,562.5 L698.8,562.6 L699.3,562.8 L699.8,563.0 L700.3,563.1 L700.9,563.3 L701.4,563.4 L702.0,563.5 L702.6,563.6 L703.2,563.7 L703.9,563.9 L704.6,563.9 L705.3,564.0 L706.0,564.1 L706.8,564.2 L707.5,564.2 L708.4,564.2 L709.2,564.2 L710.1,564.2 L710.9,564.2 L711.8,564.2 L712.8,564.2 L713.7,564.2 L714.7,564.2 L715.7,564.2 L716.7,564.2 L717.8,564.2 L718.8,564.2 L719.9,564.2 L721.0,564.2 L722.1,564.2 L723.3,564.2 L724.4,564.2 L725.6,564.2 L726.8,564.2 L728.0,564.2 L729.3,564.2 L730.5,564.2 L731.8,564.2 L733.1,564.2 L734.4,564.2 L735.7,564.1 L737.1,564.1 L738.4,564.1 L739.8,564.0 L741.1,564.0 L742.5,564.0 L743.9,563.9 L745.4,563.9 L746.8,563.9 L748.2,563.9 L749.7,563.8 L751.2,563.8 L752.6,563.8 L754.1,563.8 L755.6,563.8 L757.1,563.8 L758.7,563.8 L760.2,563.8 L761.7,563.8 L763.3,563.8 L764.8,563.9 L766.4,563.9 L767.9,563.9 L769.5,564.0 L771.0,564.0 L772.6,564.0 L774.1,564.1 L775.6,564.1 L777.1,564.1 L778.6,564.2 L780.1,564.2 L781.6,564.2 L783.1,564.2 L784.5,564.2 L785.9,564.2 L787.3,564.2 L788.6,564.2 L789.9,564.2 L791.2,564.2 L792.5,564.2 L793.7,564.2 L794.9,564.2 L796.0,564.2 L797.1,564.2 L798.2,564.1 L799.2,564.1 L800.2,564.0" fill="none" stroke="#1A6FDF" stroke-width="5.3" stroke-linejoin="round" stroke-linecap="round"/>
<path d="M152.4,564.0 L153.1,564.0 L153.8,564.0 L154.6,564.0 L155.3,564.0 L156.0,564.0 L156.7,564.0 L157.5,564.0 L158.2,564.0 L158.9,564.0 L159.7,564.0 L160.4,564.0 L161.1,564.1 L161.9,564.1 L162.6,564.1 L163.3,564.1 L164.1,564.1 L164.8,564.1 L165.5,564.1 L166.3,564.1 L167.0,564.1 L167.7,564.1 L168.5,564.1 L169.2,564.1 L170.0,564.1 L170.7,564.1 L171.4,564.1 L172.2,564.1 L172.9,564.1 L173.6,564.1 L174.4,564.1 L175.1,564.1 L175.8,564.1 L176.6,564.1 L177.3,564.1 L178.0,564.1 L178.8,564.1 L179.5,564.1 L180.2,564.1 L181.0,564.1 L181.7,564.1 L182.4,564.1 L183.1,564.1 L183.9,564.1 L184.6,564.1 L185.3,564.1 L186.0,564.1 L186.8,564.1 L187.5,564.0 L188.2,564.0 L188.9,564.0 L189.6,564.0 L190.3,564.0 L191.0,564.0 L191.7,564.0 L192.4,564.0 L193.1,564.0 L193.8,564.0 L194.5,564.0 L195.2,564.0 L195.9,564.0 L196.6,564.0 L197.3,564.0 L198.0,564.0 L198.7,564.0 L199.4,564.0 L200.0,563.9 L200.7,563.9 L201.4,563.9 L202.0,563.9 L202.7,563.9 L203.4,563.9 L204.0,563.9 L204.7,563.9 L205.3,563.9 L206.0,563.9 L206.6,563.9 L207.3,563.9 L207.9,563.8 L208.5,563.8 L209.2,563.8 L209.8,563.8 L210.4,563.8 L211.0,563.8 L211.7,563.8 L212.3,563.8 L212.9,563.7 L213.5,563.7 L214.1,563.7 L214.7,563.7 L215.3,563.7 L215.9,563.7 L216.4,563.7 L217.0,563.7 L217.6,563.6 L218.2,563.6 L218.7,563.6 L219.3,563.6 L219.8,563.6 L220.4,563.6 L220.9,563.5 L221.5,563.5 L222.0,563.5 L222.5,563.5 L223.0,563.5 L223.6,563.5 L224.1,563.4 L224.6,563.4 L225.1,563.4 L225.6,563.4 L226.1,563.3 L226.6,563.3 L227.1,563.3 L227.6,563.2 L228.1,563.2 L228.6,563.1 L229.1,563.1 L229.6,563.1 L230.0,563.0 L230.5,563.0 L231.0,562.9 L231.4,562.9 L231.9,562.8 L232.4,562.7 L232.8,562.7 L233.3,562.6 L233.8,562.5 L234.2,562.5 L234.7,562.4 L235.1,562.3 L235.6,562.2 L236.0,562.1 L236.5,562.0 L236.9,561.9 L237.4,561.8 L237.8,561.7 L238.3,561.6 L238.7,561.5 L239.2,561.3 L239.6,561.2 L240.1,561.1 L240.5,560.9 L240.9,560.8 L241.4,560.6 L241.8,560.5 L242.3,560.3 L242.7,560.1 L243.1,560.0 L243.6,559.8 L244.0,559.6 L244.5,559.4 L244.9,559.2 L245.4,559.0 L245.8,558.8 L246.2,558.6 L246.7,558.4 L247.1,558.1 L247.5,557.9 L248.0,557.7 L248.4,557.4 L248.9,557.2 L249.3,556.9 L249.7,556.7 L250.2,556.4 L250.6,556.2 L251.0,555.9 L251.5,555.6 L251.9,555.3 L252.3,555.1 L252.8,554.8 L253.2,554.5 L253.6,554.2 L254.0,553.9 L254.5,553.6 L254.9,553.3 L255.3,553.0 L255.7,552.7 L256.2,552.3 L256.6,552.0 L257.0,551.7 L257.4,551.4 L257.8,551.0 L258.2,550.7 L258.7,550.3 L259.1,550.0 L259.5,549.6 L259.9,549.3 L260.3,548.9 L260.7,548.6 L261.1,548.2 L261.5,547.8 L261.9,547.5 L262.3,547.1 L262.7,546.7 L263.1,546.3 L263.5,546.0 L263.9,545.6 L264.3,545.2 L264.7,544.8 L265.0,544.4 L265.4,544.0 L265.8,543.6 L266.2,543.2 L266.6,542.8 L266.9,542.4 L267.3,542.0 L267.7,541.6 L268.0,541.2 L268.4,540.8 L268.8,540.4 L269.1,539.9 L269.5,539.5 L269.8,539.1 L270.2,538.7 L270.5,538.3 L270.9,537.8 L271.2,537.4 L271.6,537.0 L271.9,536.5 L272.2,536.1 L272.6,535.7 L272.9,535.2 L273.2,534.8 L273.5,534.4 L273.9,533.9 L274.2,533.5 L274.5,533.0 L274.8,532.6 L275.1,532.1 L275.4,531.7 L275.7,531.3 L276.0,530.8 L276.3,530.4 L276.6,529.9 L276.9,529.5 L277.2,529.0 L277.5,528.6 L277.7,528.1 L278.0,527.7 L278.3,527.2 L278.6,526.8 L278.8,526.3 L279.1,525.9 L279.3,525.4 L279.6,525.0 L279.8,524.5 L280.1,524.1 L280.3,523.6 L280.6,523.2 L280.8,522.7 L281.0,522.3 L281.2,521.8 L281.5,521.4 L281.7,520.9 L281.9,520.5 L282.1,520.0 L282.3,519.6 L282.5,519.1 L282.7,518.7 L282.9,518.2 L283.1,517.8 L283.3,517.3 L283.5,516.9 L283.6,516.4 L283.8,516.0 L284.0,515.5 L284.2,515.1 L284.4,514.6 L284.5,514.2 L284.7,513.7 L284.9,513.3 L285.0,512.8 L285.2,512.3 L285.4,511.9 L285.6,511.4 L285.7,510.9 L285.9,510.4 L286.1,510.0 L286.3,509.5 L286.4,509.0 L286.6,508.5 L286.8,508.0 L287.0,507.5 L287.2,507.0 L287.3,506.5 L287.5,506.0 L287.7,505.4 L287.9,504.9 L288.1,504.4 L288.3,503.8 L288.5,503.3 L288.8,502.7 L289.0,502.2 L289.2,501.6 L289.4,501.1 L289.6,500.5 L289.9,499.9 L290.1,499.3 L290.3,498.7 L290.6,498.2 L290.8,497.6 L291.0,497.0 L291.3,496.4 L291.5,495.8 L291.7,495.2 L291.9,494.6 L292.2,494.0 L292.4,493.4 L292.6,492.8 L292.9,492.2 L293.1,491.5 L293.3,490.9 L293.5,490.3 L293.7,489.7 L293.9,489.1 L294.1,488.5 L294.3,487.9 L294.5,487.3 L294.7,486.7 L294.9,486.1 L295.1,485.5 L295.3,484.9 L295.5,484.3 L295.7,483.7 L295.9,483.1 L296.1,482.4 L296.3,481.8 L296.4,481.2 L296.6,480.6 L296.8,480.0 L297.0,479.4 L297.1,478.8 L297.3,478.2 L297.5,477.6 L297.7,477.0 L297.8,476.3 L298.0,475.7 L298.2,475.1 L298.4,474.5 L298.5,473.9 L298.7,473.3 L298.9,472.7 L299.0,472.0 L299.2,471.4 L299.4,470.8 L299.6,470.2 L299.7,469.6 L299.9,468.9 L300.1,468.3 L300.3,467.7 L300.4,467.1 L300.6,466.4 L300.8,465.8 L301.0,465.2 L301.2,464.5 L301.3,463.9 L301.5,463.3 L301.7,462.6 L301.9,462.0 L302.1,461.4 L302.3,460.7 L302.5,460.0 L302.7,459.4 L302.9,458.7 L303.1,458.0 L303.3,457.3 L303.5,456.6 L303.7,455.9 L303.9,455.1 L304.1,454.4 L304.4,453.6 L304.6,452.8 L304.8,452.0 L305.1,451.2 L305.3,450.4 L305.6,449.5 L305.8,448.6 L306.1,447.7 L306.3,446.7 L306.6,445.8 L306.9,444.8 L307.1,443.8 L307.4,442.7 L307.7,441.6 L308.0,440.5 L308.3,439.4 L308.6,438.3 L308.9,437.1 L309.3,435.9 L309.6,434.6 L309.9,433.4 L310.2,432.1 L310.6,430.8 L310.9,429.5 L311.3,428.2 L311.6,426.8 L312.0,425.4 L312.3,424.0 L312.7,422.6 L313.0,421.2 L313.4,419.7 L313.8,418.2 L314.1,416.8 L314.5,415.3 L314.9,413.8 L315.2,412.2 L315.6,410.7 L316.0,409.1 L316.4,407.6 L316.8,406.0 L317.2,404.4 L317.5,402.8 L317.9,401.2 L318.3,399.6 L318.7,398.0 L319.1,396.4 L319.5,394.7 L319.9,393.1 L320.3,391.4 L320.6,389.8 L321.0,388.1 L321.4,386.5 L321.8,384.8 L322.2,383.2 L322.6,381.5 L323.0,379.8 L323.3,378.2 L323.7,376.5 L324.1,374.8 L324.5,373.2 L324.9,371.5 L325.2,369.9 L325.6,368.2 L326.0,366.6 L326.3,364.9 L326.7,363.3 L327.1,361.7 L327.4,360.0 L327.8,358.4 L328.1,356.8 L328.5,355.2 L328.8,353.6 L329.2,352.0 L329.5,350.4 L329.8,348.9 L330.2,347.3 L330.5,345.7 L330.8,344.2 L331.2,342.6 L331.5,341.1 L331.8,339.5 L332.1,338.0 L332.5,336.5 L332.8,334.9 L333.1,333.4 L333.4,331.9 L333.7,330.4 L334.0,329.0 L334.3,327.5 L334.6,326.0 L334.9,324.6 L335.2,323.1 L335.5,321.7 L335.8,320.2 L336.1,318.8 L336.4,317.4 L336.7,316.0 L337.0,314.6 L337.3,313.2 L337.5,311.8 L337.8,310.4 L338.1,309.1 L338.4,307.7 L338.6,306.4 L338.9,305.0 L339.2,303.7 L339.5,302.4 L339.7,301.1 L340.0,299.8 L340.2,298.5 L340.5,297.2 L340.8,296.0 L341.0,294.7 L341.3,293.5 L341.5,292.2 L341.8,291.0 L342.0,289.8 L342.3,288.6 L342.5,287.4 L342.8,286.2 L343.0,285.1 L343.3,283.9 L343.5,282.8 L343.7,281.6 L344.0,280.5 L344.2,279.3 L344.5,278.2 L344.7,277.1 L344.9,276.0 L345.2,274.9 L345.4,273.8 L345.7,272.7 L345.9,271.7 L346.1,270.6 L346.4,269.5 L346.6,268.5 L346.8,267.4 L347.1,266.4 L347.3,265.3 L347.6,264.3 L347.8,263.2 L348.0,262.2 L348.3,261.2 L348.5,260.1 L348.8,259.1 L349.0,258.1 L349.3,257.1 L349.5,256.0 L349.8,255.0 L350.0,254.0 L350.3,253.0 L350.5,252.0 L350.8,250.9 L351.0,249.9 L351.3,248.9 L351.6,247.9 L351.8,246.9 L352.1,245.9 L352.4,244.8 L352.6,243.8 L352.9,242.8 L353.2,241.8 L353.5,240.8 L353.7,239.8 L354.0,238.8 L354.3,237.8 L354.6,236.7 L354.9,235.7 L355.2,234.7 L355.5,233.7 L355.8,232.8 L356.1,231.8 L356.4,230.8 L356.7,229.8 L357.0,228.8 L357.3,227.8 L357.6,226.9 L357.9,225.9 L358.2,224.9 L358.5,224.0 L358.8,223.0 L359.2,222.1 L359.5,221.2 L359.8,220.2 L360.1,219.3 L360.4,218.4 L360.8,217.5 L361.1,216.6 L361.4,215.7 L361.8,214.8 L362.1,213.9 L362.4,213.0 L362.8,212.2 L363.1,211.3 L363.5,210.5 L363.8,209.6 L364.2,208.8 L364.5,208.0 L364.9,207.2 L365.2,206.4 L365.6,205.6 L365.9,204.8 L366.3,204.1 L366.7,203.3 L367.0,202.6 L367.4,201.8 L367.8,201.1 L368.1,200.4 L368.5,199.7 L368.9,199.0 L369.3,198.4 L369.6,197.7 L370.0,197.1 L370.4,196.4 L370.8,195.8 L371.2,195.2 L371.6,194.6 L372.0,194.0 L372.4,193.5 L372.8,192.9 L373.1,192.4 L373.5,191.9 L373.9,191.4 L374.3,191.0 L374.7,190.5 L375.1,190.1 L375.6,189.7 L376.0,189.4 L376.4,189.1 L376.8,188.8 L377.2,188.5 L377.6,188.3 L378.0,188.2 L378.4,188.0 L378.8,187.9 L379.2,187.9 L379.6,187.9 L380.0,187.9 L380.4,188.0 L380.8,188.1 L381.2,188.3 L381.6,188.5 L382.0,188.7 L382.4,189.0 L382.8,189.3 L383.2,189.6 L383.5,189.9 L383.9,190.3 L384.3,190.7 L384.7,191.1 L385.0,191.5 L385.4,191.9 L385.8,192.4 L386.1,192.8 L386.5,193.3 L386.8,193.7 L387.1,194.2 L387.5,194.7 L387.8,195.2 L388.1,195.7 L388.4,196.2 L388.8,196.7 L389.1,197.2 L389.4,197.7 L389.7,198.2 L390.0,198.8 L390.3,199.3 L390.6,199.9 L390.9,200.4 L391.2,201.0 L391.5,201.5 L391.8,202.1 L392.0,202.7 L392.3,203.3 L392.6,203.9 L392.9,204.4 L393.2,205.0 L393.5,205.6 L393.8,206.3 L394.0,206.9 L394.3,207.5 L394.6,208.1 L394.9,208.8 L395.2,209.4 L395.5,210.1 L395.7,210.8 L396.0,211.4 L396.3,212.1 L396.6,212.8 L396.9,213.5 L397.1,214.3 L397.4,215.0 L397.7,215.7 L398.0,216.5 L398.2,217.3 L398.5,218.1 L398.8,218.9 L399.1,219.7 L399.3,220.5 L399.6,221.4 L399.9,222.2 L400.2,223.1 L400.4,224.0 L400.7,224.9 L401.0,225.8 L401.3,226.7 L401.5,227.7 L401.8,228.6 L402.1,229.6 L402.3,230.6 L402.6,231.6 L402.9,232.6 L403.2,233.6 L403.4,234.7 L403.7,235.7 L404.0,236.8 L404.2,237.9 L404.5,238.9 L404.8,240.0 L405.1,241.2 L405.3,242.3 L405.6,243.4 L405.9,244.6 L406.1,245.7 L406.4,246.9 L406.7,248.1 L407.0,249.3 L407.2,250.5 L407.5,251.7 L407.8,252.9 L408.0,254.2 L408.3,255.4 L408.6,256.7 L408.9,257.9 L409.1,259.2 L409.4,260.5 L409.7,261.8 L410.0,263.1 L410.2,264.4 L410.5,265.8 L410.8,267.1 L411.0,268.4 L411.3,269.8 L411.6,271.1 L411.9,272.5 L412.1,273.9 L412.4,275.3 L412.7,276.7 L413.0,278.1 L413.2,279.5 L413.5,280.9 L413.8,282.3 L414.1,283.7 L414.3,285.2 L414.6,286.6 L414.9,288.1 L415.2,289.5 L415.5,291.0 L415.7,292.5 L416.0,294.0 L416.3,295.4 L416.6,296.9 L416.9,298.4 L417.1,299.9 L417.4,301.4 L417.7,303.0 L418.0,304.5 L418.3,306.0 L418.5,307.5 L418.8,309.1 L419.1,310.6 L419.4,312.1 L419.7,313.7 L420.0,315.2 L420.2,316.8 L420.5,318.4 L420.8,319.9 L421.1,321.5 L421.4,323.1 L421.7,324.6 L422.0,326.2 L422.3,327.8 L422.6,329.4 L422.9,331.0 L423.1,332.5 L423.4,334.1 L423.7,335.7 L424.0,337.3 L424.3,338.9 L424.6,340.5 L424.9,342.1 L425.2,343.7 L425.5,345.3 L425.8,346.9 L426.1,348.5 L426.4,350.2 L426.7,351.8 L427.0,353.4 L427.3,355.0 L427.6,356.6 L427.9,358.2 L428.2,359.8 L428.5,361.4 L428.8,363.0 L429.1,364.6 L429.4,366.1 L429.7,367.7 L430.0,369.3 L430.3,370.9 L430.6,372.4 L430.9,374.0 L431.2,375.6 L431.5,377.1 L431.8,378.6 L432.1,380.2 L432.4,381.7 L432.7,383.2 L433.0,384.7 L433.3,386.2 L433.6,387.7 L433.9,389.2 L434.2,390.7 L434.5,392.1 L434.8,393.6 L435.1,395.0 L435.4,396.5 L435.7,397.9 L436.0,399.3 L436.3,400.7 L436.6,402.1 L436.9,403.4 L437.2,404.8 L437.4,406.1 L437.7,407.4 L438.0,408.7 L438.3,410.0 L438.6,411.3 L438.9,412.6 L439.1,413.8 L439.4,415.0 L439.7,416.2 L440.0,417.4 L440.2,418.6 L440.5,419.8 L440.8,420.9 L441.0,422.0 L441.3,423.1 L441.6,424.2 L441.8,425.3 L442.1,426.3 L442.4,427.4 L442.6,428.4 L442.9,429.4 L443.1,430.4 L443.4,431.5 L443.7,432.4 L443.9,433.4 L444.2,434.4 L444.4,435.4 L444.7,436.4 L445.0,437.3 L445.2,438.3 L445.5,439.2 L445.8,440.2 L446.0,441.2 L446.3,442.1 L446.6,443.1 L446.9,444.1 L447.2,445.0 L447.4,446.0 L447.7,447.0 L448.0,447.9 L448.3,448.9 L448.6,449.9 L448.9,450.9 L449.2,452.0 L449.5,453.0 L449.8,454.0 L450.1,455.1 L450.5,456.1 L450.8,457.2 L451.1,458.3 L451.5,459.4 L451.8,460.5 L452.1,461.6 L452.5,462.7 L452.8,463.8 L453.2,464.9 L453.5,466.1 L453.9,467.2 L454.2,468.3 L454.6,469.4 L454.9,470.5 L455.3,471.7 L455.6,472.8 L456.0,473.9 L456.3,475.0 L456.6,476.1 L457.0,477.2 L457.3,478.2 L457.7,479.3 L458.0,480.4 L458.3,481.4 L458.7,482.4 L459.0,483.4 L459.3,484.4 L459.6,485.4 L460.0,486.3 L460.3,487.2 L460.6,488.1 L460.9,489.0 L461.2,489.9 L461.4,490.7 L461.7,491.5 L462.0,492.3 L462.2,493.0 L462.5,493.8 L462.8,494.4 L463.0,495.1 L463.2,495.7 L463.5,496.3 L463.7,496.9 L463.9,497.4 L464.1,498.0 L464.4,498.5 L464.6,499.0 L464.8,499.4 L465.0,499.9 L465.3,500.3 L465.5,500.8 L465.7,501.2 L466.0,501.6 L466.2,502.0 L466.5,502.4 L466.8,502.8 L467.1,503.1 L467.3,503.5 L467.6,503.9 L468.0,504.3 L468.3,504.6 L468.6,505.0 L469.0,505.3 L469.3,505.6 L469.7,506.0 L470.0,506.3 L470.4,506.6 L470.8,506.9 L471.2,507.2 L471.6,507.5 L472.0,507.8 L472.4,508.0 L472.8,508.3 L473.2,508.5 L473.6,508.8 L474.1,509.0 L474.5,509.2 L474.9,509.4 L475.4,509.6 L475.9,509.8 L476.3,510.0 L476.8,510.1 L477.3,510.3 L477.7,510.4 L478.2,510.6 L478.7,510.7 L479.2,510.8 L479.7,510.9 L480.2,510.9 L480.7,511.0 L481.2,511.0 L481.7,511.1 L482.2,511.1 L482.7,511.1 L483.2,511.1 L483.8,511.1 L484.3,511.0 L484.8,511.0 L485.3,510.9 L485.8,510.8 L486.4,510.7 L486.9,510.6 L487.4,510.5 L488.0,510.3 L488.5,510.1 L489.0,510.0 L489.6,509.8 L490.1,509.5 L490.6,509.3 L491.2,509.0 L491.7,508.8 L492.2,508.5 L492.7,508.2 L493.3,507.9 L493.8,507.5 L494.3,507.2 L494.9,506.8 L495.4,506.4 L495.9,506.1 L496.5,505.7 L497.0,505.3 L497.5,504.8 L498.1,504.4 L498.6,504.0 L499.1,503.5 L499.7,503.1 L500.2,502.6 L500.7,502.2 L501.3,501.7 L501.8,501.2 L502.3,500.7 L502.9,500.3 L503.4,499.8 L503.9,499.3 L504.5,498.8 L505.0,498.3 L505.6,497.8 L506.1,497.3 L506.6,496.8 L507.2,496.3 L507.7,495.8 L508.3,495.3 L508.8,494.9 L509.4,494.4 L509.9,493.9 L510.4,493.4 L511.0,492.9 L511.5,492.5 L512.1,492.0 L512.6,491.6 L513.2,491.1 L513.7,490.7 L514.3,490.3 L514.9,489.9 L515.4,489.5 L516.0,489.1 L516.5,488.7 L517.1,488.3 L517.6,488.0 L518.2,487.6 L518.8,487.3 L519.3,487.0 L519.9,486.7 L520.5,486.4 L521.0,486.1 L521.6,485.9 L522.2,485.6 L522.8,485.4 L523.3,485.2 L523.9,485.0 L524.5,484.9 L525.1,484.7 L525.6,484.6 L526.2,484.5 L526.8,484.4 L527.4,484.4 L528.0,484.4 L528.6,484.4 L529.2,484.4 L529.8,484.4 L530.4,484.5 L531.0,484.6 L531.5,484.7 L532.1,484.8 L532.7,484.9 L533.3,485.1 L533.9,485.3 L534.5,485.5 L535.1,485.7 L535.7,486.0 L536.3,486.2 L536.9,486.5 L537.4,486.8 L538.0,487.1 L538.6,487.4 L539.2,487.7 L539.7,488.1 L540.3,488.4 L540.9,488.8 L541.4,489.2 L542.0,489.6 L542.5,490.0 L543.1,490.4 L543.6,490.9 L544.2,491.3 L544.7,491.8 L545.2,492.2 L545.7,492.7 L546.2,493.2 L546.7,493.7 L547.2,494.2 L547.7,494.7 L548.2,495.2 L548.7,495.7 L549.2,496.2 L549.6,496.7 L550.1,497.2 L550.5,497.8 L550.9,498.3 L551.4,498.8 L551.8,499.4 L552.2,499.9 L552.6,500.5 L552.9,501.0 L553.3,501.5 L553.7,502.1 L554.0,502.6 L554.4,503.2 L554.7,503.7 L555.1,504.3 L555.4,504.8 L555.7,505.4 L556.0,505.9 L556.3,506.5 L556.6,507.0 L557.0,507.6 L557.3,508.1 L557.6,508.7 L557.9,509.2 L558.1,509.8 L558.4,510.3 L558.7,510.9 L559.0,511.4 L559.3,512.0 L559.6,512.5 L559.9,513.1 L560.2,513.6 L560.5,514.2 L560.8,514.7 L561.1,515.3 L561.4,515.8 L561.7,516.4 L562.0,516.9 L562.3,517.5 L562.6,518.0 L562.9,518.6 L563.2,519.1 L563.5,519.7 L563.8,520.2 L564.1,520.8 L564.4,521.3 L564.7,521.9 L565.0,522.4 L565.3,523.0 L565.6,523.5 L565.9,524.1 L566.2,524.6 L566.5,525.2 L566.8,525.8 L567.1,526.3 L567.4,526.9 L567.7,527.4 L568.0,528.0 L568.3,528.5 L568.6,529.1 L568.9,529.7 L569.1,530.2 L569.4,530.8 L569.7,531.4 L570.0,531.9 L570.3,532.5 L570.6,533.1 L570.9,533.6 L571.2,534.2 L571.5,534.8 L571.7,535.4 L572.0,535.9 L572.3,536.5 L572.6,537.1 L572.9,537.7 L573.1,538.2 L573.4,538.8 L573.7,539.4 L574.0,540.0 L574.3,540.5 L574.5,541.1 L574.8,541.7 L575.1,542.2 L575.4,542.8 L575.7,543.3 L576.0,543.9 L576.3,544.4 L576.6,545.0 L576.9,545.5 L577.2,546.0 L577.6,546.5 L577.9,547.0 L578.2,547.5 L578.6,548.0 L578.9,548.4 L579.3,548.9 L579.6,549.3 L580.0,549.8 L580.4,550.2 L580.7,550.6 L581.1,551.0 L581.5,551.4 L581.9,551.8 L582.3,552.2 L582.7,552.6 L583.1,553.0 L583.5,553.3 L583.9,553.7 L584.3,554.0 L584.7,554.3 L585.1,554.7 L585.5,555.0 L586.0,555.3 L586.4,555.6 L586.8,555.9 L587.2,556.3 L587.6,556.6 L588.0,556.8 L588.4,557.1 L588.8,557.4 L589.2,557.7 L589.6,558.0 L590.0,558.3 L590.4,558.5 L590.8,558.8 L591.2,559.1 L591.5,559.4 L591.9,559.6 L592.3,559.9 L592.6,560.2 L593.0,560.4 L593.3,560.7 L593.7,561.0 L594.0,561.2 L594.3,561.5 L594.6,561.8 L594.9,562.0 L595.2,562.3 L595.5,562.6 L595.8,562.9 L596.1,563.1 L596.3,563.4 L596.6,563.7 L596.8,564.0 L596.8,564.0 L597.3,564.1 L597.8,564.1 L598.3,564.2 L598.9,564.2 L599.4,564.2 L599.9,564.2 L600.5,564.2 L601.0,564.2 L601.6,564.2 L602.1,564.2 L602.7,564.2 L603.3,564.2 L603.8,564.2 L604.4,564.2 L605.0,564.2 L605.5,564.2 L606.1,564.2 L606.7,564.2 L607.3,564.2 L607.9,564.2 L608.5,564.2 L609.1,564.2 L609.7,564.2 L610.3,564.2 L611.0,564.2 L611.6,564.2 L612.2,564.2 L612.8,564.2 L613.5,564.2 L614.1,564.2 L614.7,564.2 L615.4,564.2 L616.0,564.2 L616.7,564.2 L617.3,564.2 L618.0,564.2 L618.6,564.2 L619.3,564.1 L620.0,564.1 L620.6,564.0 L621.3,564.0 L622.0,564.0 L622.7,563.9 L623.3,563.9 L624.0,563.8 L624.7,563.8 L625.4,563.7 L626.1,563.7 L626.8,563.6 L627.5,563.5 L628.2,563.5 L628.9,563.4 L629.6,563.4 L630.3,563.3 L631.0,563.3 L631.7,563.2 L632.4,563.1 L633.1,563.1 L633.9,563.0 L634.6,563.0 L635.3,562.9 L636.0,562.8 L636.8,562.8 L637.5,562.7 L638.2,562.6 L638.9,562.6 L639.7,562.5 L640.4,562.4 L641.1,562.4 L641.9,562.3 L642.6,562.3 L643.4,562.2 L644.1,562.1 L644.9,562.1 L645.6,562.0 L646.3,561.9 L647.1,561.9 L647.8,561.8 L648.6,561.8 L649.4,561.7 L650.1,561.6 L650.9,561.6 L651.6,561.5 L652.4,561.5 L653.1,561.4 L653.9,561.4 L654.6,561.3 L655.4,561.3 L656.2,561.2 L656.9,561.2 L657.7,561.1 L658.4,561.1 L659.2,561.0 L660.0,561.0 L660.7,560.9 L661.5,560.9 L662.3,560.9 L663.0,560.8 L663.8,560.8 L664.6,560.7 L665.3,560.7 L666.1,560.7 L666.8,560.6 L667.6,560.6 L668.4,560.6 L669.1,560.6 L669.9,560.6 L670.7,560.5 L671.4,560.5 L672.2,560.5 L672.9,560.5 L673.7,560.5 L674.5,560.5 L675.2,560.5 L675.9,560.5 L676.7,560.5 L677.4,560.5 L678.2,560.5 L678.9,560.5 L679.6,560.5 L680.3,560.5 L681.0,560.6 L681.7,560.6 L682.4,560.6 L683.1,560.7 L683.8,560.7 L684.5,560.7 L685.2,560.8 L685.8,560.8 L686.5,560.9 L687.1,560.9 L687.7,561.0 L688.3,561.1 L688.9,561.1 L689.5,561.2 L690.1,561.3 L690.7,561.4 L691.2,561.5 L691.8,561.6 L692.3,561.7 L692.8,561.8 L693.3,561.9 L693.8,562.0 L694.3,562.1 L694.8,562.3 L695.2,562.4 L695.7,562.5 L696.2,562.7 L696.7,562.8 L697.2,562.9 L697.7,563.0 L698.2,563.2 L698.7,563.3 L699.3,563.4 L699.9,563.5 L700.5,563.6 L701.1,563.7 L701.8,563.8 L702.5,563.9 L703.2,563.9 L703.9,564.0 L704.7,564.1 L705.5,564.2 L706.3,564.2 L707.1,564.2 L708.0,564.2 L708.9,564.2 L709.8,564.2 L710.7,564.2 L711.6,564.2 L712.6,564.2 L713.5,564.2 L714.5,564.2 L715.5,564.2 L716.6,564.2 L717.6,564.2 L718.7,564.2 L719.7,564.2 L720.8,564.2 L721.9,564.2 L723.1,564.2 L724.2,564.2 L725.3,564.2 L726.5,564.2 L727.7,564.2 L728.9,564.2 L730.0,564.2 L731.3,564.2 L732.5,564.2 L733.7,564.2 L734.9,564.2 L736.2,564.2 L737.4,564.2 L738.7,564.2 L740.0,564.2 L741.2,564.2 L742.5,564.2 L743.8,564.2 L745.1,564.1 L746.4,564.1 L747.7,564.1 L749.0,564.0 L750.3,564.0 L751.7,564.0 L753.0,563.9 L754.3,563.9 L755.6,563.9 L756.9,563.8 L758.3,563.8 L759.6,563.8 L760.9,563.7 L762.2,563.7 L763.6,563.7 L764.9,563.7 L766.2,563.6 L767.5,563.6 L768.8,563.6 L770.1,563.6 L771.4,563.5 L772.7,563.5 L774.0,563.5 L775.3,563.5 L776.6,563.5 L777.9,563.5 L779.1,563.5 L780.4,563.5 L781.7,563.5 L782.9,563.5 L784.1,563.5 L785.4,563.5 L786.6,563.5 L787.8,563.5 L789.0,563.6 L790.2,563.6 L791.3,563.6 L792.5,563.6 L793.6,563.7 L794.8,563.7 L795.9,563.8 L797.0,563.8 L798.1,563.9 L799.1,563.9 L800.2,564.0" fill="none" stroke="#37AD6B" stroke-width="5.3" stroke-linejoin="round" stroke-linecap="round"/>
<path d="M152.4,564.0 L153.2,564.0 L154.0,564.0 L154.8,564.0 L155.6,564.0 L156.3,564.0 L157.1,564.0 L157.9,564.0 L158.7,564.0 L159.5,564.0 L160.3,564.0 L161.1,564.0 L161.8,564.0 L162.6,564.0 L163.4,564.0 L164.2,564.0 L164.9,564.0 L165.7,564.0 L166.5,564.0 L167.3,564.0 L168.0,564.0 L168.8,564.1 L169.6,564.1 L170.3,564.1 L171.1,564.1 L171.9,564.1 L172.6,564.1 L173.4,564.1 L174.1,564.1 L174.9,564.1 L175.6,564.1 L176.4,564.1 L177.1,564.1 L177.9,564.1 L178.6,564.1 L179.4,564.1 L180.1,564.1 L180.8,564.1 L181.6,564.1 L182.3,564.1 L183.0,564.1 L183.7,564.1 L184.5,564.1 L185.2,564.1 L185.9,564.1 L186.6,564.0 L187.3,564.0 L188.0,564.0 L188.8,564.0 L189.5,564.0 L190.2,564.0 L190.9,564.0 L191.6,564.0 L192.2,564.0 L192.9,564.0 L193.6,564.0 L194.3,564.0 L195.0,564.0 L195.7,564.0 L196.3,564.0 L197.0,564.0 L197.7,564.0 L198.3,564.0 L199.0,564.0 L199.7,564.0 L200.3,563.9 L201.0,563.9 L201.6,563.9 L202.2,563.9 L202.9,563.9 L203.5,563.9 L204.2,563.9 L204.8,563.9 L205.4,563.9 L206.0,563.9 L206.6,563.9 L207.2,563.8 L207.9,563.8 L208.5,563.8 L209.1,563.8 L209.6,563.8 L210.2,563.8 L210.8,563.8 L211.4,563.7 L212.0,563.7 L212.6,563.7 L213.1,563.7 L213.7,563.7 L214.2,563.7 L214.8,563.6 L215.4,563.6 L215.9,563.6 L216.4,563.6 L217.0,563.6 L217.5,563.6 L218.0,563.5 L218.6,563.5 L219.1,563.5 L219.6,563.5 L220.1,563.4 L220.6,563.4 L221.1,563.4 L221.6,563.3 L222.1,563.3 L222.6,563.3 L223.1,563.2 L223.6,563.2 L224.1,563.1 L224.6,563.1 L225.1,563.0 L225.5,563.0 L226.0,562.9 L226.5,562.9 L227.0,562.8 L227.4,562.8 L227.9,562.7 L228.4,562.6 L228.9,562.5 L229.3,562.5 L229.8,562.4 L230.2,562.3 L230.7,562.2 L231.2,562.1 L231.6,562.0 L232.1,561.9 L232.5,561.8 L233.0,561.7 L233.4,561.6 L233.9,561.4 L234.4,561.3 L234.8,561.2 L235.3,561.0 L235.7,560.9 L236.2,560.7 L236.6,560.6 L237.1,560.4 L237.5,560.2 L238.0,560.1 L238.5,559.9 L238.9,559.7 L239.4,559.5 L239.8,559.3 L240.3,559.1 L240.8,558.9 L241.2,558.7 L241.7,558.5 L242.1,558.2 L242.6,558.0 L243.0,557.8 L243.5,557.5 L244.0,557.3 L244.4,557.0 L244.9,556.8 L245.3,556.5 L245.8,556.2 L246.2,556.0 L246.7,555.7 L247.2,555.4 L247.6,555.1 L248.1,554.8 L248.5,554.5 L249.0,554.2 L249.4,553.9 L249.9,553.6 L250.3,553.3 L250.8,553.0 L251.2,552.7 L251.7,552.3 L252.1,552.0 L252.6,551.7 L253.0,551.3 L253.4,551.0 L253.9,550.6 L254.3,550.3 L254.8,549.9 L255.2,549.6 L255.6,549.2 L256.1,548.9 L256.5,548.5 L256.9,548.1 L257.4,547.7 L257.8,547.4 L258.2,547.0 L258.6,546.6 L259.1,546.2 L259.5,545.8 L259.9,545.4 L260.3,545.0 L260.7,544.6 L261.1,544.2 L261.6,543.8 L262.0,543.4 L262.4,543.0 L262.8,542.6 L263.2,542.2 L263.6,541.7 L264.0,541.3 L264.4,540.9 L264.8,540.5 L265.2,540.0 L265.5,539.6 L265.9,539.2 L266.3,538.7 L266.7,538.3 L267.1,537.9 L267.4,537.4 L267.8,537.0 L268.2,536.5 L268.5,536.1 L268.9,535.7 L269.3,535.2 L269.6,534.8 L270.0,534.3 L270.3,533.8 L270.7,533.4 L271.0,532.9 L271.3,532.5 L271.7,532.0 L272.0,531.6 L272.3,531.1 L272.7,530.6 L273.0,530.2 L273.3,529.7 L273.6,529.2 L273.9,528.8 L274.2,528.3 L274.5,527.8 L274.8,527.4 L275.1,526.9 L275.4,526.4 L275.7,526.0 L276.0,525.5 L276.3,525.0 L276.5,524.6 L276.8,524.1 L277.1,523.6 L277.3,523.1 L277.6,522.7 L277.9,522.2 L278.1,521.7 L278.4,521.3 L278.6,520.8 L278.8,520.3 L279.1,519.9 L279.3,519.4 L279.5,518.9 L279.7,518.5 L279.9,518.0 L280.1,517.5 L280.4,517.0 L280.6,516.6 L280.8,516.1 L281.0,515.6 L281.2,515.2 L281.3,514.7 L281.5,514.2 L281.7,513.7 L281.9,513.2 L282.1,512.8 L282.3,512.3 L282.5,511.8 L282.7,511.3 L282.9,510.8 L283.1,510.3 L283.2,509.8 L283.4,509.3 L283.6,508.8 L283.8,508.3 L284.0,507.8 L284.2,507.3 L284.4,506.8 L284.6,506.3 L284.8,505.7 L285.0,505.2 L285.2,504.7 L285.4,504.1 L285.7,503.6 L285.9,503.0 L286.1,502.5 L286.3,501.9 L286.6,501.4 L286.8,500.8 L287.0,500.2 L287.3,499.6 L287.5,499.1 L287.8,498.5 L288.0,497.9 L288.2,497.3 L288.5,496.7 L288.7,496.1 L289.0,495.5 L289.2,494.9 L289.5,494.3 L289.8,493.7 L290.0,493.1 L290.3,492.4 L290.5,491.8 L290.8,491.2 L291.0,490.6 L291.3,489.9 L291.5,489.3 L291.8,488.7 L292.0,488.1 L292.3,487.4 L292.5,486.8 L292.8,486.1 L293.0,485.5 L293.3,484.9 L293.5,484.2 L293.7,483.6 L294.0,482.9 L294.2,482.3 L294.4,481.6 L294.7,481.0 L294.9,480.4 L295.1,479.7 L295.3,479.1 L295.5,478.4 L295.7,477.8 L295.9,477.1 L296.1,476.5 L296.3,475.8 L296.5,475.2 L296.7,474.5 L296.9,473.9 L297.1,473.2 L297.3,472.6 L297.5,471.9 L297.7,471.3 L297.9,470.6 L298.1,470.0 L298.3,469.3 L298.5,468.7 L298.7,468.0 L298.8,467.4 L299.0,466.7 L299.2,466.1 L299.4,465.4 L299.6,464.8 L299.8,464.1 L300.0,463.5 L300.2,462.8 L300.4,462.2 L300.7,461.5 L300.9,460.9 L301.1,460.2 L301.3,459.5 L301.5,458.8 L301.8,458.1 L302.0,457.4 L302.2,456.7 L302.5,456.0 L302.7,455.2 L303.0,454.5 L303.2,453.7 L303.5,452.9 L303.7,452.1 L304.0,451.2 L304.2,450.4 L304.5,449.5 L304.8,448.6 L305.1,447.6 L305.4,446.7 L305.7,445.7 L306.0,444.6 L306.3,443.6 L306.6,442.5 L306.9,441.4 L307.2,440.2 L307.5,439.1 L307.9,437.8 L308.2,436.6 L308.5,435.4 L308.9,434.1 L309.2,432.8 L309.6,431.4 L310.0,430.1 L310.3,428.7 L310.7,427.3 L311.0,425.8 L311.4,424.4 L311.8,422.9 L312.2,421.4 L312.6,419.9 L312.9,418.4 L313.3,416.9 L313.7,415.3 L314.1,413.7 L314.5,412.1 L314.9,410.5 L315.3,408.9 L315.7,407.3 L316.1,405.7 L316.5,404.0 L316.9,402.3 L317.3,400.7 L317.7,399.0 L318.1,397.3 L318.6,395.6 L319.0,393.9 L319.4,392.2 L319.8,390.5 L320.2,388.8 L320.6,387.1 L321.0,385.3 L321.5,383.6 L321.9,381.9 L322.3,380.1 L322.7,378.4 L323.1,376.7 L323.5,375.0 L323.9,373.2 L324.4,371.5 L324.8,369.8 L325.2,368.1 L325.6,366.4 L326.0,364.7 L326.4,363.0 L326.8,361.3 L327.2,359.6 L327.6,358.0 L328.0,356.3 L328.4,354.6 L328.8,353.0 L329.2,351.3 L329.6,349.7 L330.0,348.1 L330.4,346.5 L330.7,344.8 L331.1,343.2 L331.5,341.6 L331.9,340.0 L332.3,338.5 L332.6,336.9 L333.0,335.3 L333.4,333.8 L333.8,332.2 L334.1,330.7 L334.5,329.1 L334.8,327.6 L335.2,326.1 L335.6,324.6 L335.9,323.1 L336.3,321.6 L336.6,320.1 L337.0,318.7 L337.3,317.2 L337.7,315.8 L338.0,314.3 L338.3,312.9 L338.7,311.5 L339.0,310.0 L339.3,308.6 L339.7,307.3 L340.0,305.9 L340.3,304.5 L340.6,303.1 L341.0,301.8 L341.3,300.4 L341.6,299.1 L341.9,297.8 L342.2,296.5 L342.5,295.2 L342.8,293.9 L343.1,292.6 L343.4,291.3 L343.7,290.1 L344.0,288.8 L344.3,287.6 L344.5,286.4 L344.8,285.1 L345.1,283.9 L345.4,282.7 L345.7,281.5 L345.9,280.4 L346.2,279.2 L346.5,278.0 L346.7,276.9 L347.0,275.7 L347.3,274.6 L347.6,273.4 L347.8,272.3 L348.1,271.2 L348.4,270.1 L348.7,269.0 L348.9,267.8 L349.2,266.7 L349.5,265.6 L349.8,264.5 L350.1,263.5 L350.3,262.4 L350.6,261.3 L350.9,260.2 L351.2,259.1 L351.5,258.1 L351.8,257.0 L352.1,255.9 L352.4,254.8 L352.8,253.8 L353.1,252.7 L353.4,251.6 L353.7,250.6 L354.1,249.5 L354.4,248.4 L354.8,247.4 L355.1,246.3 L355.5,245.2 L355.8,244.2 L356.2,243.1 L356.6,242.1 L356.9,241.0 L357.3,239.9 L357.7,238.9 L358.1,237.8 L358.5,236.8 L358.9,235.8 L359.2,234.7 L359.6,233.7 L360.0,232.7 L360.4,231.7 L360.8,230.7 L361.2,229.7 L361.6,228.8 L362.0,227.8 L362.4,226.8 L362.8,225.9 L363.1,225.0 L363.5,224.0 L363.9,223.1 L364.3,222.3 L364.7,221.4 L365.0,220.5 L365.4,219.7 L365.8,218.8 L366.1,218.0 L366.5,217.2 L366.9,216.4 L367.2,215.7 L367.6,214.9 L367.9,214.2 L368.2,213.5 L368.6,212.8 L368.9,212.2 L369.2,211.5 L369.5,210.9 L369.9,210.2 L370.2,209.6 L370.5,209.0 L370.9,208.5 L371.2,207.9 L371.5,207.4 L371.9,206.8 L372.2,206.3 L372.6,205.8 L372.9,205.3 L373.3,204.8 L373.6,204.4 L374.0,203.9 L374.4,203.5 L374.8,203.0 L375.2,202.6 L375.6,202.2 L376.0,201.9 L376.4,201.5 L376.9,201.2 L377.3,200.9 L377.7,200.6 L378.1,200.3 L378.6,200.1 L379.0,200.0 L379.5,199.8 L379.9,199.7 L380.3,199.6 L380.8,199.6 L381.2,199.7 L381.7,199.7 L382.1,199.8 L382.5,200.0 L383.0,200.2 L383.4,200.4 L383.8,200.7 L384.3,201.0 L384.7,201.3 L385.1,201.7 L385.5,202.0 L385.9,202.4 L386.3,202.9 L386.7,203.3 L387.1,203.8 L387.5,204.3 L387.9,204.8 L388.2,205.3 L388.6,205.8 L389.0,206.4 L389.3,206.9 L389.7,207.5 L390.0,208.1 L390.4,208.6 L390.7,209.2 L391.1,209.8 L391.4,210.5 L391.7,211.1 L392.0,211.7 L392.3,212.4 L392.6,213.0 L392.9,213.7 L393.2,214.3 L393.5,215.0 L393.8,215.7 L394.1,216.4 L394.4,217.1 L394.7,217.8 L395.0,218.5 L395.2,219.2 L395.5,219.9 L395.8,220.7 L396.0,221.4 L396.3,222.1 L396.6,222.9 L396.8,223.6 L397.1,224.4 L397.3,225.1 L397.6,225.9 L397.8,226.7 L398.1,227.4 L398.3,228.2 L398.5,229.0 L398.8,229.7 L399.0,230.5 L399.2,231.3 L399.5,232.1 L399.7,232.8 L400.0,233.6 L400.2,234.4 L400.4,235.2 L400.6,235.9 L400.9,236.7 L401.1,237.5 L401.3,238.3 L401.6,239.0 L401.8,239.8 L402.0,240.6 L402.2,241.4 L402.5,242.1 L402.7,242.9 L402.9,243.7 L403.2,244.5 L403.4,245.3 L403.6,246.1 L403.9,246.9 L404.1,247.7 L404.3,248.5 L404.6,249.3 L404.8,250.2 L405.0,251.0 L405.3,251.9 L405.5,252.8 L405.7,253.7 L406.0,254.6 L406.2,255.5 L406.5,256.4 L406.7,257.4 L407.0,258.4 L407.2,259.4 L407.5,260.4 L407.7,261.5 L408.0,262.5 L408.2,263.6 L408.5,264.7 L408.8,265.9 L409.0,267.1 L409.3,268.2 L409.5,269.5 L409.8,270.7 L410.1,272.0 L410.4,273.2 L410.6,274.6 L410.9,275.9 L411.2,277.2 L411.5,278.6 L411.8,280.0 L412.0,281.4 L412.3,282.8 L412.6,284.3 L412.9,285.7 L413.2,287.2 L413.5,288.7 L413.8,290.2 L414.1,291.7 L414.4,293.3 L414.7,294.8 L414.9,296.4 L415.2,298.0 L415.5,299.5 L415.8,301.1 L416.1,302.8 L416.4,304.4 L416.7,306.0 L417.0,307.6 L417.3,309.3 L417.6,310.9 L417.9,312.6 L418.3,314.3 L418.6,316.0 L418.9,317.6 L419.2,319.3 L419.5,321.0 L419.8,322.7 L420.1,324.4 L420.4,326.1 L420.7,327.8 L421.0,329.5 L421.3,331.2 L421.6,332.9 L421.9,334.6 L422.2,336.3 L422.5,338.0 L422.8,339.7 L423.1,341.4 L423.4,343.1 L423.7,344.8 L424.0,346.5 L424.3,348.2 L424.6,349.8 L424.9,351.5 L425.2,353.2 L425.5,354.9 L425.7,356.5 L426.0,358.2 L426.3,359.8 L426.6,361.5 L426.9,363.1 L427.2,364.7 L427.5,366.3 L427.8,368.0 L428.1,369.6 L428.3,371.2 L428.6,372.8 L428.9,374.3 L429.2,375.9 L429.5,377.5 L429.8,379.1 L430.0,380.6 L430.3,382.1 L430.6,383.7 L430.9,385.2 L431.1,386.7 L431.4,388.2 L431.7,389.7 L432.0,391.2 L432.2,392.7 L432.5,394.1 L432.8,395.6 L433.0,397.0 L433.3,398.5 L433.6,399.9 L433.8,401.3 L434.1,402.7 L434.3,404.1 L434.6,405.4 L434.9,406.8 L435.1,408.1 L435.4,409.4 L435.6,410.8 L435.9,412.1 L436.1,413.3 L436.4,414.6 L436.6,415.9 L436.9,417.1 L437.1,418.3 L437.4,419.5 L437.6,420.7 L437.8,421.9 L438.1,423.1 L438.3,424.3 L438.5,425.4 L438.8,426.5 L439.0,427.7 L439.3,428.8 L439.5,429.9 L439.7,431.0 L440.0,432.1 L440.2,433.1 L440.4,434.2 L440.7,435.3 L440.9,436.3 L441.1,437.4 L441.3,438.4 L441.6,439.5 L441.8,440.5 L442.0,441.6 L442.3,442.6 L442.5,443.6 L442.7,444.6 L443.0,445.7 L443.2,446.7 L443.4,447.7 L443.7,448.7 L443.9,449.8 L444.1,450.8 L444.4,451.8 L444.6,452.9 L444.8,453.9 L445.1,454.9 L445.3,456.0 L445.6,457.0 L445.8,458.1 L446.0,459.1 L446.3,460.2 L446.5,461.2 L446.8,462.3 L447.0,463.3 L447.3,464.4 L447.5,465.5 L447.7,466.5 L448.0,467.6 L448.2,468.7 L448.5,469.7 L448.7,470.8 L449.0,471.8 L449.2,472.9 L449.5,473.9 L449.7,475.0 L450.0,476.0 L450.2,477.1 L450.5,478.1 L450.7,479.2 L451.0,480.2 L451.2,481.2 L451.5,482.3 L451.7,483.3 L452.0,484.3 L452.2,485.3 L452.5,486.3 L452.7,487.3 L453.0,488.3 L453.2,489.3 L453.5,490.3 L453.7,491.2 L454.0,492.2 L454.2,493.2 L454.5,494.1 L454.7,495.0 L455.0,496.0 L455.2,496.9 L455.5,497.8 L455.7,498.7 L456.0,499.6 L456.2,500.5 L456.5,501.3 L456.7,502.2 L456.9,503.1 L457.2,503.9 L457.4,504.7 L457.7,505.6 L457.9,506.4 L458.2,507.2 L458.4,508.0 L458.7,508.8 L458.9,509.6 L459.2,510.4 L459.4,511.1 L459.7,511.9 L460.0,512.6 L460.2,513.4 L460.5,514.1 L460.7,514.8 L461.0,515.5 L461.2,516.2 L461.5,516.9 L461.8,517.6 L462.0,518.3 L462.3,518.9 L462.6,519.6 L462.9,520.2 L463.1,520.9 L463.4,521.5 L463.7,522.1 L464.0,522.7 L464.2,523.3 L464.5,523.9 L464.8,524.4 L465.1,525.0 L465.4,525.5 L465.7,526.1 L466.0,526.6 L466.3,527.1 L466.6,527.7 L466.9,528.1 L467.2,528.6 L467.5,529.1 L467.8,529.6 L468.1,530.0 L468.4,530.5 L468.8,530.9 L469.1,531.3 L469.4,531.8 L469.8,532.2 L470.1,532.6 L470.4,532.9 L470.8,533.3 L471.1,533.7 L471.5,534.0 L471.8,534.4 L472.2,534.7 L472.5,535.0 L472.9,535.3 L473.3,535.6 L473.6,535.9 L474.0,536.1 L474.4,536.4 L474.8,536.7 L475.2,536.9 L475.6,537.1 L476.0,537.3 L476.3,537.6 L476.7,537.8 L477.1,537.9 L477.6,538.1 L478.0,538.3 L478.4,538.4 L478.8,538.6 L479.2,538.7 L479.6,538.9 L480.0,539.0 L480.4,539.1 L480.9,539.2 L481.3,539.3 L481.7,539.4 L482.1,539.5 L482.6,539.6 L483.0,539.6 L483.4,539.7 L483.8,539.7 L484.3,539.8 L484.7,539.8 L485.1,539.8 L485.6,539.8 L486.0,539.8 L486.4,539.8 L486.9,539.8 L487.3,539.8 L487.7,539.8 L488.2,539.8 L488.6,539.7 L489.1,539.7 L489.5,539.6 L489.9,539.6 L490.4,539.5 L490.8,539.5 L491.2,539.4 L491.7,539.3 L492.1,539.2 L492.5,539.1 L493.0,539.0 L493.4,538.9 L493.8,538.8 L494.2,538.7 L494.7,538.6 L495.1,538.5 L495.5,538.3 L496.0,538.2 L496.4,538.1 L496.8,537.9 L497.2,537.8 L497.7,537.6 L498.1,537.5 L498.5,537.3 L498.9,537.2 L499.4,537.0 L499.8,536.8 L500.2,536.6 L500.6,536.5 L501.1,536.3 L501.5,536.1 L501.9,535.9 L502.3,535.7 L502.7,535.5 L503.1,535.3 L503.6,535.1 L504.0,534.9 L504.4,534.7 L504.8,534.5 L505.2,534.3 L505.6,534.1 L506.0,533.9 L506.4,533.7 L506.9,533.5 L507.3,533.3 L507.7,533.0 L508.1,532.8 L508.5,532.6 L508.9,532.4 L509.3,532.2 L509.7,531.9 L510.1,531.7 L510.5,531.5 L510.9,531.3 L511.3,531.0 L511.7,530.8 L512.1,530.6 L512.5,530.4 L512.9,530.1 L513.3,529.9 L513.7,529.7 L514.1,529.5 L514.5,529.3 L514.9,529.0 L515.2,528.8 L515.6,528.6 L516.0,528.4 L516.4,528.2 L516.8,528.0 L517.2,527.7 L517.6,527.5 L518.0,527.3 L518.3,527.1 L518.7,526.9 L519.1,526.7 L519.5,526.5 L519.9,526.4 L520.3,526.2 L520.7,526.0 L521.0,525.8 L521.4,525.7 L521.8,525.5 L522.2,525.3 L522.6,525.2 L523.0,525.0 L523.4,524.9 L523.8,524.8 L524.2,524.7 L524.6,524.5 L525.0,524.4 L525.3,524.3 L525.7,524.2 L526.1,524.1 L526.5,524.1 L526.9,524.0 L527.4,523.9 L527.8,523.9 L528.2,523.8 L528.6,523.8 L529.0,523.8 L529.4,523.8 L529.8,523.8 L530.2,523.8 L530.7,523.8 L531.1,523.8 L531.5,523.9 L531.9,523.9 L532.4,524.0 L532.8,524.0 L533.2,524.1 L533.7,524.2 L534.1,524.3 L534.5,524.4 L535.0,524.5 L535.4,524.7 L535.9,524.8 L536.3,525.0 L536.8,525.1 L537.2,525.3 L537.7,525.5 L538.2,525.7 L538.6,525.9 L539.1,526.1 L539.6,526.3 L540.0,526.5 L540.5,526.8 L541.0,527.0 L541.4,527.3 L541.9,527.5 L542.4,527.8 L542.9,528.1 L543.4,528.4 L543.9,528.7 L544.4,529.0 L544.9,529.3 L545.3,529.6 L545.8,529.9 L546.3,530.3 L546.8,530.6 L547.4,531.0 L547.9,531.4 L548.4,531.7 L548.9,532.1 L549.4,532.5 L549.9,532.9 L550.4,533.3 L551.0,533.7 L551.5,534.1 L552.0,534.6 L552.5,535.0 L553.1,535.5 L553.6,535.9 L554.1,536.4 L554.7,536.8 L555.2,537.3 L555.8,537.8 L556.3,538.3 L556.8,538.8 L557.4,539.3 L557.9,539.8 L558.5,540.3 L559.1,540.8 L559.6,541.3 L560.2,541.8 L560.7,542.4 L561.3,542.9 L561.8,543.4 L562.4,544.0 L563.0,544.5 L563.5,545.0 L564.1,545.6 L564.6,546.1 L565.2,546.7 L565.7,547.2 L566.3,547.7 L566.8,548.3 L567.4,548.8 L567.9,549.4 L568.5,549.9 L569.0,550.4 L569.6,550.9 L570.1,551.5 L570.6,552.0 L571.2,552.5 L571.7,553.0 L572.2,553.5 L572.7,554.0 L573.3,554.5 L573.8,555.0 L574.3,555.5 L574.8,555.9 L575.3,556.4 L575.8,556.9 L576.3,557.3 L576.7,557.7 L577.2,558.2 L577.7,558.6 L578.2,559.0 L578.6,559.4 L579.1,559.8 L579.5,560.1 L580.0,560.5 L580.4,560.8 L580.8,561.2 L581.2,561.5 L581.6,561.8 L582.1,562.1 L582.4,562.4 L582.8,562.6 L583.2,562.9 L583.6,563.1 L583.9,563.3 L584.3,563.5 L584.6,563.7 L585.0,563.9 L585.3,564.0 L585.3,564.0 L585.7,564.0 L586.2,564.0 L586.6,564.0 L587.1,563.9 L587.7,563.9 L588.2,563.9 L588.8,563.9 L589.4,563.9 L590.1,563.9 L590.7,563.9 L591.4,563.9 L592.1,563.9 L592.9,563.9 L593.6,563.9 L594.4,563.9 L595.2,563.9 L596.0,564.0 L596.8,564.0 L597.6,564.0 L598.4,564.0 L599.3,564.0 L600.1,564.0 L601.0,564.0 L601.9,564.1 L602.7,564.1 L603.6,564.1 L604.5,564.1 L605.4,564.1 L606.3,564.1 L607.2,564.2 L608.0,564.2 L608.9,564.2 L609.8,564.2 L610.6,564.2 L611.5,564.2 L612.3,564.2 L613.1,564.2 L614.0,564.2 L614.7,564.2 L615.5,564.2 L616.3,564.2 L617.0,564.2 L617.8,564.2 L618.5,564.2 L619.2,564.2 L619.9,564.2 L620.5,564.1 L621.2,564.1 L621.9,564.1 L622.5,564.0 L623.2,564.0 L623.8,564.0 L624.5,563.9 L625.1,563.9 L625.7,563.8 L626.4,563.8 L627.0,563.7 L627.7,563.7 L628.3,563.6 L629.0,563.6 L629.6,563.5 L630.3,563.4 L631.0,563.4 L631.7,563.3 L632.4,563.3 L633.1,563.2 L633.8,563.1 L634.5,563.0 L635.3,563.0 L636.0,562.9 L636.8,562.8 L637.6,562.7 L638.3,562.6 L639.1,562.6 L639.9,562.5 L640.7,562.4 L641.5,562.3 L642.3,562.2 L643.2,562.2 L644.0,562.1 L644.8,562.0 L645.7,561.9 L646.5,561.8 L647.4,561.7 L648.2,561.6 L649.1,561.6 L650.0,561.5 L650.8,561.4 L651.7,561.3 L652.6,561.2 L653.5,561.2 L654.4,561.1 L655.3,561.0 L656.2,560.9 L657.1,560.9 L658.0,560.8 L658.9,560.7 L659.8,560.7 L660.7,560.6 L661.6,560.5 L662.5,560.5 L663.4,560.4 L664.3,560.4 L665.2,560.3 L666.1,560.3 L667.0,560.2 L667.9,560.2 L668.8,560.1 L669.6,560.1 L670.5,560.1 L671.4,560.0 L672.3,560.0 L673.2,560.0 L674.1,560.0 L675.0,560.0 L675.8,559.9 L676.7,559.9 L677.6,559.9 L678.4,559.9 L679.3,559.9 L680.1,560.0 L681.0,560.0 L681.8,560.0 L682.6,560.0 L683.5,560.1 L684.3,560.1 L685.1,560.2 L685.9,560.2 L686.7,560.3 L687.5,560.3 L688.2,560.4 L689.0,560.4 L689.8,560.5 L690.6,560.6 L691.3,560.6 L692.1,560.7 L692.8,560.8 L693.6,560.9 L694.3,561.0 L695.0,561.1 L695.7,561.1 L696.4,561.2 L697.1,561.3 L697.8,561.4 L698.5,561.5 L699.2,561.6 L699.9,561.7 L700.6,561.8 L701.2,561.9 L701.9,561.9 L702.6,562.0 L703.2,562.1 L703.9,562.2 L704.5,562.3 L705.1,562.4 L705.7,562.5 L706.4,562.5 L707.0,562.6 L707.6,562.7 L708.2,562.8 L708.8,562.8 L709.4,562.9 L709.9,563.0 L710.5,563.0 L711.1,563.1 L711.7,563.1 L712.3,563.2 L712.8,563.2 L713.4,563.3 L714.0,563.3 L714.6,563.4 L715.2,563.4 L715.8,563.4 L716.4,563.5 L717.1,563.5 L717.7,563.5 L718.4,563.6 L719.1,563.6 L719.8,563.6 L720.5,563.6 L721.2,563.7 L722.0,563.7 L722.7,563.7 L723.5,563.7 L724.4,563.8 L725.2,563.8 L726.1,563.8 L727.0,563.8 L727.9,563.8 L728.9,563.8 L729.8,563.9 L730.8,563.9 L731.8,563.9 L732.9,563.9 L733.9,563.9 L735.0,563.9 L736.1,563.9 L737.2,563.9 L738.3,563.9 L739.4,564.0 L740.6,564.0 L741.7,564.0 L742.9,564.0 L744.1,564.0 L745.3,564.0 L746.5,564.0 L747.7,564.0 L748.9,564.0 L750.1,564.0 L751.3,564.0 L752.6,564.0 L753.8,564.0 L755.0,564.0 L756.3,564.0 L757.5,564.0 L758.8,564.0 L760.0,564.0 L761.3,564.0 L762.5,564.0 L763.8,564.0 L765.0,564.0 L766.2,564.0 L767.5,564.0 L768.7,564.0 L769.9,564.0 L771.1,564.0 L772.3,564.0 L773.5,564.0 L774.7,564.0 L775.8,564.0 L777.0,564.0 L778.1,564.0 L779.3,564.0 L780.4,564.0 L781.5,564.0 L782.6,564.0 L783.7,564.0 L784.7,564.0 L785.7,564.0 L786.8,564.0 L787.7,564.0 L788.7,564.0 L789.7,564.0 L790.6,564.0 L791.5,564.0 L792.4,564.0 L793.2,564.0 L794.1,564.0 L794.9,564.0 L795.6,564.0 L796.4,564.0 L797.1,564.0 L797.8,564.0 L798.4,564.0 L799.1,564.0 L799.6,564.0 L800.2,564.0" fill="none" stroke="#B177DE" stroke-width="5.3" stroke-linejoin="round" stroke-linecap="round"/>
<path d="M337,31h2v12h-2zM337,47h2v3h-2zM337,54h2v11h-2zM337,69h2v3h-2zM337,76h2v12h-2zM337,92h2v3h-2zM337,99h2v11h-2zM337,114h2v3h-2zM337,121h2v12h-2zM337,137h2v3h-2zM337,144h2v11h-2zM337,160h2v2h-2zM337,166h2v12h-2zM337,182h2v3h-2zM337,189h2v12h-2zM337,205h2v3h-2zM337,211h2v12h-2zM337,227h2v3h-2zM337,234h2v12h-2zM337,250h2v3h-2zM337,257h2v11h-2zM337,272h2v3h-2zM337,279h2v12h-2zM337,295h2v1h-2zM336,296h2v2h-2zM336,302h2v11h-2zM336,317h2v3h-2zM336,324h2v12h-2zM336,340h2v3h-2zM336,347h2v11h-2zM336,363h2v2h-2zM336,369h2v12h-2zM336,385h2v3h-2zM336,392h2v12h-2zM336,408h2v3h-2zM336,415h2v11h-2zM336,430h2v3h-2zM336,437h2v12h-2zM336,453h2v3h-2zM336,460h2v11h-2zM336,475h2v3h-2zM336,482h2v12h-2zM336,498h2v3h-2zM336,505h2v11h-2zM336,520h2v3h-2zM336,527h2v12h-2zM336,543h2v3h-2zM336,550h2v11h-2zM479,29h2v12h-2zM479,45h2v3h-2zM479,52h2v11h-2zM479,67h2v3h-2zM479,74h2v12h-2zM479,90h2v3h-2zM479,97h2v11h-2zM479,112h2v3h-2zM479,119h2v12h-2zM479,135h2v3h-2zM479,142h2v11h-2zM479,158h2v2h-2zM479,164h2v12h-2zM479,180h2v3h-2zM479,187h2v12h-2zM479,203h2v3h-2zM479,209h2v12h-2zM479,225h2v3h-2zM479,232h2v12h-2zM479,248h2v3h-2zM479,255h2v11h-2zM479,270h2v3h-2zM479,277h2v12h-2zM479,293h2v3h-2zM479,300h2v11h-2zM479,315h2v3h-2zM479,322h2v12h-2zM479,338h2v3h-2zM479,345h2v11h-2zM479,361h2v2h-2zM479,367h2v12h-2zM479,383h2v3h-2zM479,390h2v12h-2zM479,406h2v3h-2zM479,413h2v11h-2zM479,428h2v3h-2zM479,435h2v12h-2zM479,451h2v3h-2zM479,458h2v11h-2zM479,473h2v3h-2zM479,480h2v12h-2zM479,496h2v3h-2zM479,503h2v11h-2zM479,518h2v3h-2zM479,525h2v12h-2zM479,541h2v3h-2zM479,548h2v11h-2z" fill="#ff0000" shape-rendering="crispEdges"/>
<path d="M271.60,168.50h2V465.40h-2z" fill="#000"/>
<path d="M271.90,155.10h1.4L276.80,169.50H268.40z" fill="#000"/>
<path d="M432.00,161.00h2V277.00h-2z" shape-rendering="crispEdges" fill="#000"/>
<path d="M432.30,147.00h1.4L437.00,162.00H429.00z" fill="#000"/>
<path d="M613.40,340.50h2V446.40h-2z" fill="#000"/>
<path d="M613.70,327.10h1.4L618.60,341.50H610.20z" fill="#000"/>
<path d="M664.10,518.80H781.30v2H664.10z" fill="#000"/>
<path d="M795.00,519.10v1.4L780.30,523.90V515.70z" fill="#000"/>
<text x="172.43" y="75.40" font-size="21.5" letter-spacing="0.316">Strongly bound</text>
<text x="222.87" y="103.50" font-size="21.5" letter-spacing="-0.017">water</text>
<text x="337.14" y="75.40" font-size="21.5" letter-spacing="0.283">Intra-aggregate</text>
<text x="355.70" y="102.40" font-size="21.5" letter-spacing="0.211">pore water</text>
<text x="577.79" y="76.80" font-size="21.5" letter-spacing="0.323">Inter-aggregate</text>
<text x="602.80" y="104.00" font-size="21.5" letter-spacing="0.250">pore water</text>
<text x="437.55" y="205.80" font-size="21.5" letter-spacing="0.260">First peak</text>
<text x="438.10" y="233.60" font-size="21.5" letter-spacing="0.203">increases</text>
<text x="626.73" y="382.40" font-size="21.5" letter-spacing="0.271">Second peak</text>
<text x="645.20" y="410.40" font-size="21.5" letter-spacing="0.315">increases</text>
<text x="691.65" y="500.20" font-size="21.5" letter-spacing="0.259">increases</text>
<text transform="translate(243.00,456.80) rotate(-90)" font-size="21.5" letter-spacing="0.371">Compaction degree decreases</text>
<text x="619.03" y="174.70" font-size="21.8" letter-spacing="0.330" style="stroke-width:0.45px">RC80-<tspan class="i">w</tspan>16(Sat)</text>
<text x="619.03" y="202.13" font-size="21.8" letter-spacing="0.330" style="stroke-width:0.45px">RC85-<tspan class="i">w</tspan>16(Sat)</text>
<text x="619.03" y="229.56" font-size="21.8" letter-spacing="0.330" style="stroke-width:0.45px">RC90-<tspan class="i">w</tspan>16(Sat)</text>
<text x="619.03" y="256.99" font-size="21.8" letter-spacing="0.330" style="stroke-width:0.45px">RC95-<tspan class="i">w</tspan>16(Sat)</text>
<text x="619.03" y="284.42" font-size="21.8" letter-spacing="0.243" style="stroke-width:0.45px">RC100-<tspan class="i">w</tspan>16(Sat)</text>
<text x="649.3" y="500.20" font-size="21.5" class="i">r</text>
<text x="657.2" y="506.50" font-size="14" letter-spacing="0.9">max</text>
<rect x="561.5" y="152.5" width="226" height="141" fill="none" stroke="#000" stroke-width="1" shape-rendering="crispEdges"/>
<line x1="564.5" y1="168.3" x2="613.3" y2="168.3" stroke="#515151" stroke-width="5.4" stroke-linecap="round"/>
<line x1="564.5" y1="195.7" x2="613.3" y2="195.7" stroke="#F14040" stroke-width="5.4" stroke-linecap="round"/>
<line x1="564.5" y1="223.1" x2="613.3" y2="223.1" stroke="#1A6FDF" stroke-width="5.4" stroke-linecap="round"/>
<line x1="564.5" y1="250.5" x2="613.3" y2="250.5" stroke="#37AD6B" stroke-width="5.4" stroke-linecap="round"/>
<line x1="564.5" y1="277.9" x2="613.3" y2="277.9" stroke="#B177DE" stroke-width="5.4" stroke-linecap="round"/>
<text x="141" y="573.6" font-size="32.2" text-anchor="end">0.000</text>
<text x="141" y="395.3" font-size="32.2" text-anchor="end">0.003</text>
<text x="141" y="217.3" font-size="32.2" text-anchor="end">0.006</text>
<text x="141" y="39.0" font-size="32.2" text-anchor="end">0.009</text>
<text x="152.1" y="605.7" font-size="32" text-anchor="middle">10<tspan font-size="23" dy="-14">-3</tspan></text>
<text x="261.1" y="605.7" font-size="32" text-anchor="middle">10<tspan font-size="23" dy="-14">-2</tspan></text>
<text x="370.1" y="605.7" font-size="32" text-anchor="middle">10<tspan font-size="23" dy="-14">-1</tspan></text>
<text x="479.1" y="605.7" font-size="32" text-anchor="middle">10<tspan font-size="23" dy="-14">0</tspan></text>
<text x="588.1" y="605.7" font-size="32" text-anchor="middle">10<tspan font-size="23" dy="-14">1</tspan></text>
<text x="697.1" y="605.7" font-size="32" text-anchor="middle">10<tspan font-size="23" dy="-14">2</tspan></text>
<text x="806.1" y="605.7" font-size="32" text-anchor="middle">10<tspan font-size="23" dy="-14">3</tspan></text>
<text x="479.5" y="653.5" font-size="32.2" text-anchor="middle">Pore radius, <tspan class="i">r</tspan> (µm)</text>
<text transform="translate(44,296.7) rotate(-90)" font-size="32.3" text-anchor="middle">Normalized pore water volume, <tspan class="i">V</tspan><tspan font-size="21.5" dy="8.5">n</tspan><tspan dy="-8.5"> (ml/g)</tspan></text>
<circle cx="841.1" cy="335" r="2.2" fill="#808080"/>
</svg></body></html>
